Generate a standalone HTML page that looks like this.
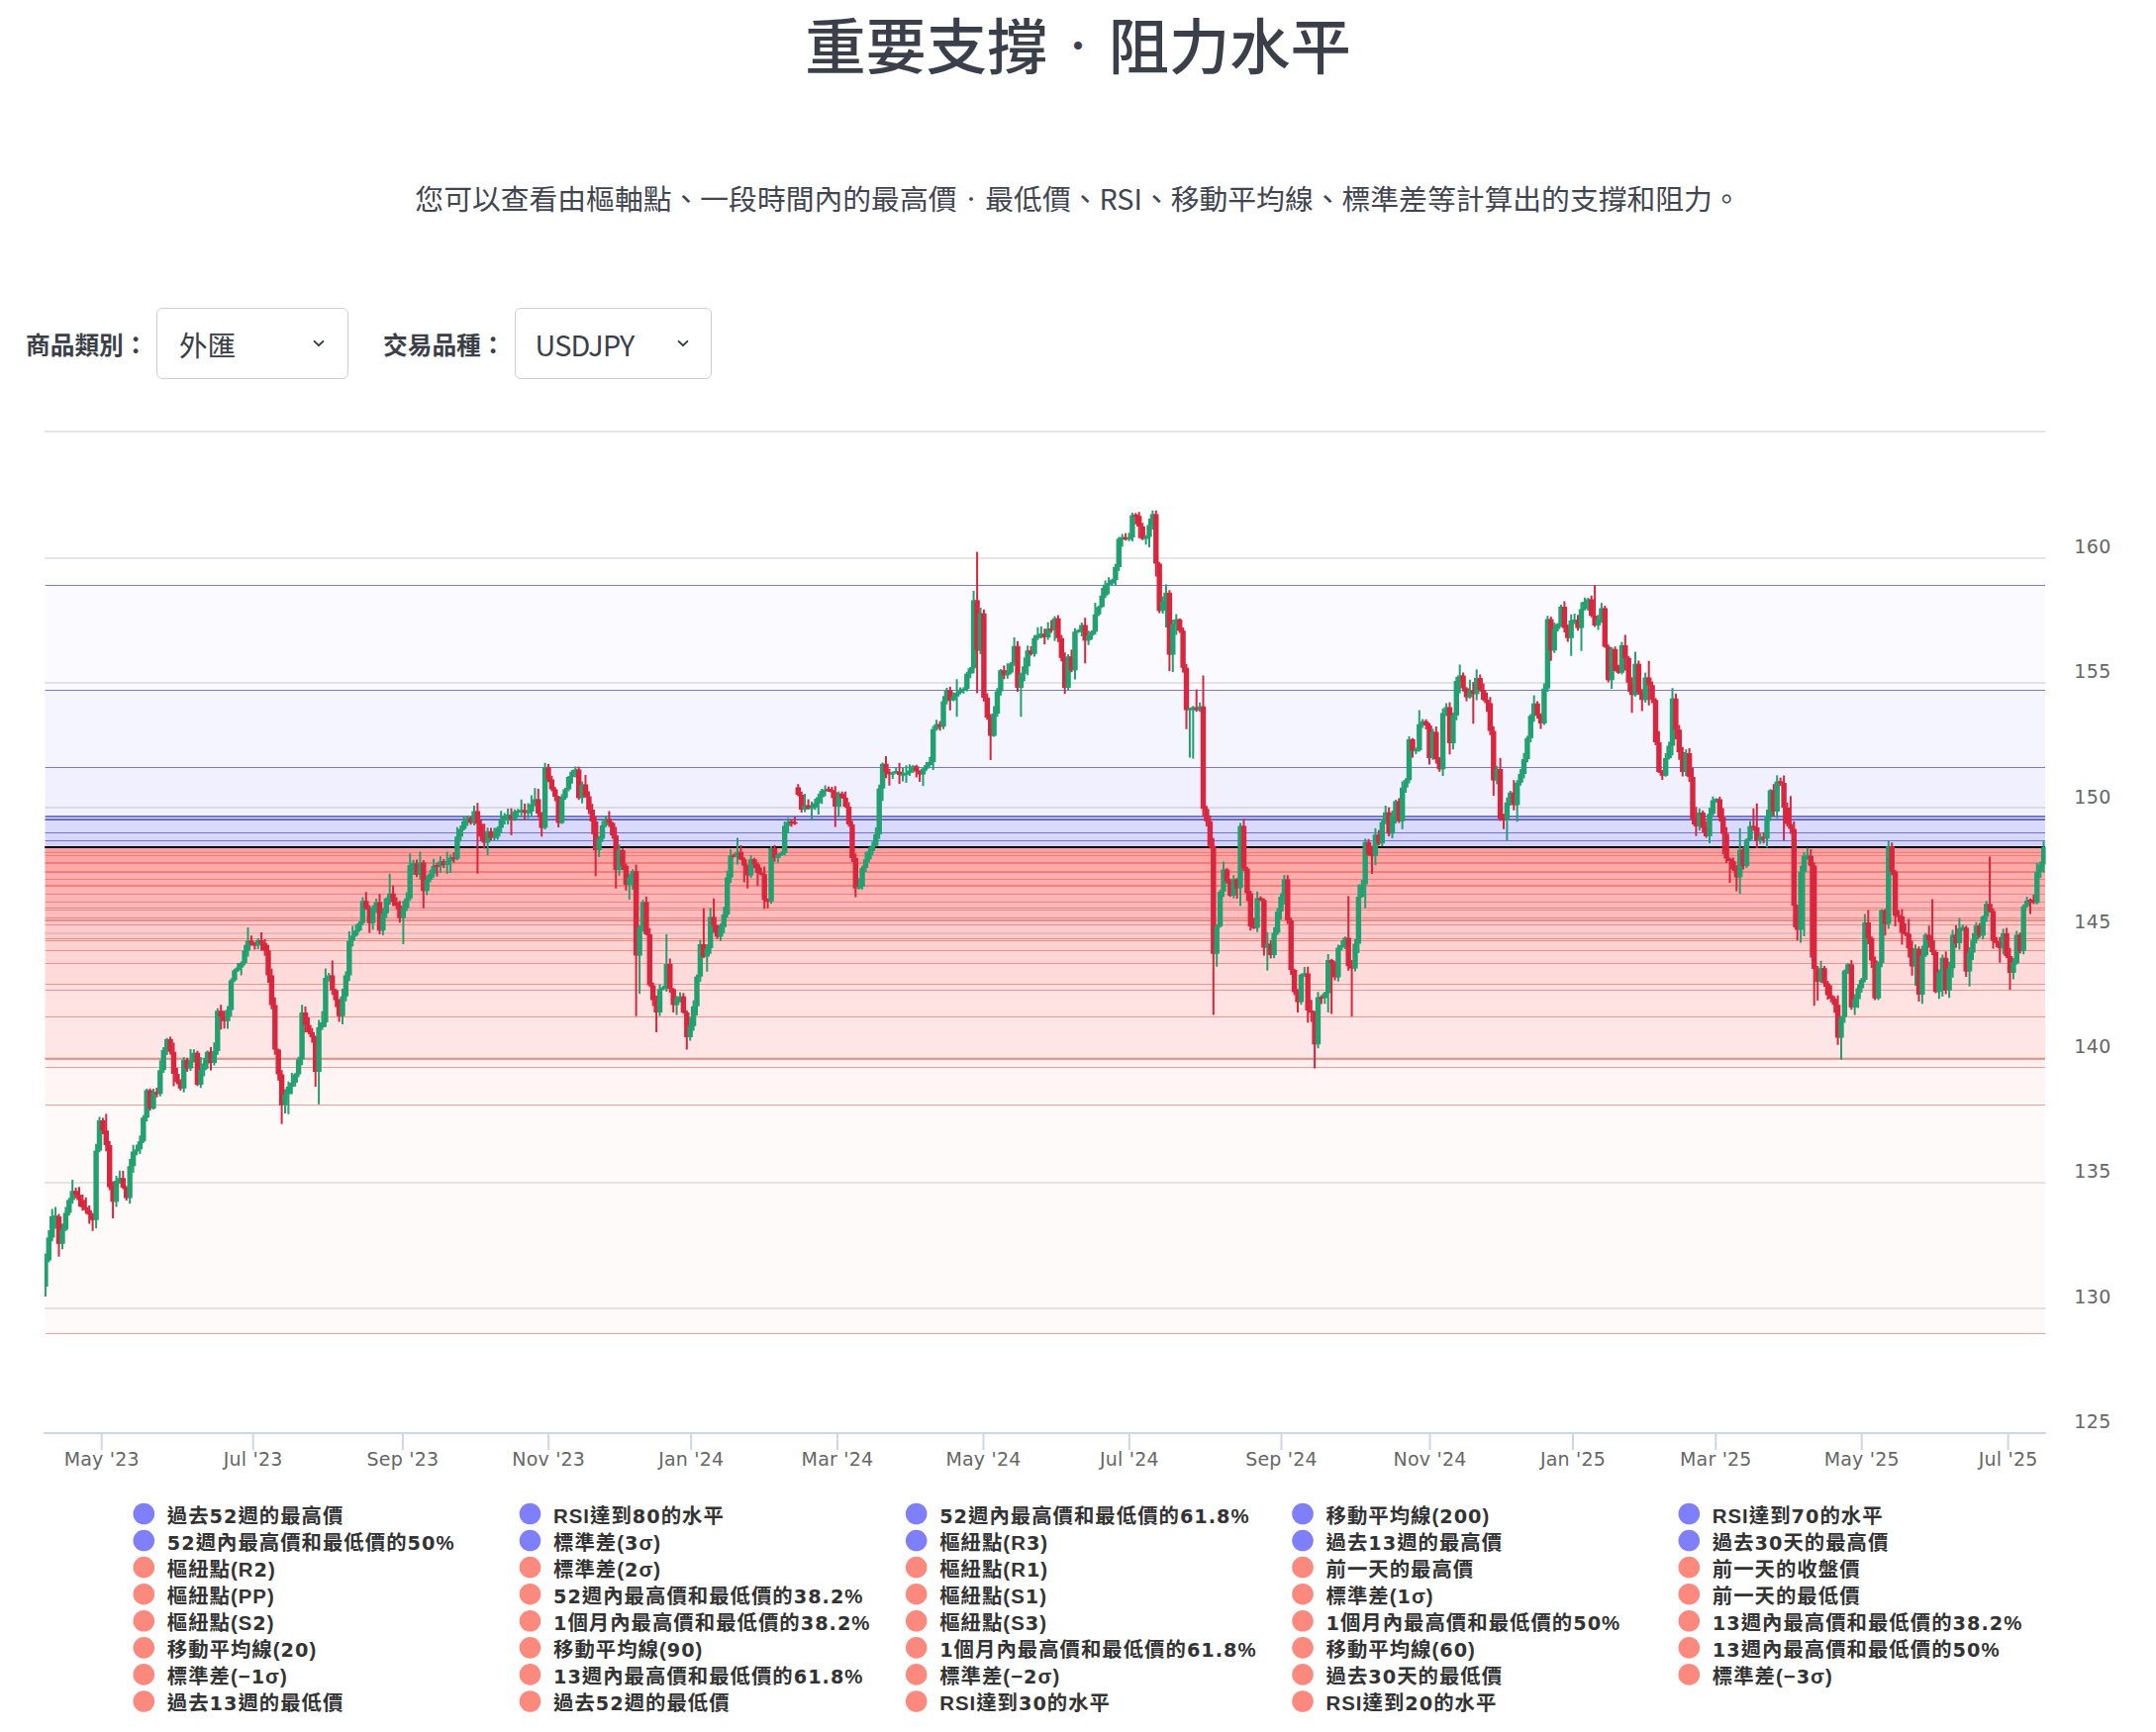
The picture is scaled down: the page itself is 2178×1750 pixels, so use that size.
<!DOCTYPE html>
<html lang="zh-Hant"><head><meta charset="utf-8"><title>重要支撐・阻力水平</title>
<style>
html,body{margin:0;padding:0;background:#fff;}
body{width:2178px;height:1750px;position:relative;overflow:hidden;font-family:"Liberation Sans","Noto Sans CJK TC",sans-serif;color:#3b3f4a;}
.title{position:absolute;left:0;top:2px;width:2178px;text-align:center;font-size:61.3px;line-height:84px;font-weight:500;color:#3b3f4a;font-family:"Noto Sans CJK TC","Liberation Sans",sans-serif;white-space:nowrap;}
.title .dot{display:inline-block;width:61.3px;text-align:center;font-size:35px;line-height:35px;position:relative;top:-11.5px;}
.sub .sdot{display:inline-block;width:28.8px;text-align:center;font-size:18px;line-height:18px;position:relative;top:-4.5px;}
.sub{position:absolute;left:0;top:179px;width:2178px;text-align:center;font-size:28.8px;line-height:42px;color:#41454f;font-family:"Noto Sans CJK TC","Liberation Sans",sans-serif;white-space:nowrap;}
.lab{position:absolute;top:327.5px;font-size:24.7px;line-height:38px;font-weight:700;color:#3b3f4a;font-family:"Noto Sans CJK TC","Liberation Sans",sans-serif;white-space:nowrap;}
.sel{position:absolute;top:311px;height:69.7px;border:1px solid #cfcfcf;border-radius:6px;background:#fff;box-sizing:content-box;}
.sel span{position:absolute;left:21.6px;top:14px;font-size:28.8px;line-height:44px;color:#3b3f4a;font-family:"Noto Sans CJK TC","Liberation Sans",sans-serif;white-space:nowrap;}
.sel svg{position:absolute;top:28.5px;}
.chart{position:absolute;left:0;top:0;}
.ax{font-family:"DejaVu Sans","Liberation Sans",sans-serif;font-size:19px;letter-spacing:0.2px;fill:#666;}
.ay{font-family:"DejaVu Sans","Liberation Sans",sans-serif;font-size:19px;letter-spacing:0.4px;fill:#666;}
.lg{font-family:"Liberation Sans","Noto Sans CJK TC",sans-serif;font-size:20.4px;letter-spacing:1px;font-weight:700;fill:#333;}
.lg .d{font-family:"DejaVu Sans",sans-serif;font-size:19.3px;}
</style></head><body>
<div class="title">重要支撐<span class="dot">・</span>阻力水平</div>
<div class="sub">您可以查看由樞軸點、一段時間內的最高價<span class="sdot">・</span>最低價、RSI、移動平均線、標準差等計算出的支撐和阻力。</div>
<div class="lab" style="left:26px">商品類別：</div>
<div class="sel" style="left:158.2px;width:191.6px"><span>外匯</span><svg style="left:155px" width="16" height="12" viewBox="0 0 16 12"><path d="M3.6 3.8 L8 8.2 L12.4 3.8" fill="none" stroke="#343a40" stroke-width="1.9" stroke-linecap="round" stroke-linejoin="round"/></svg></div>
<div class="lab" style="left:387px">交易品種：</div>
<div class="sel" style="left:520.3px;width:196.6px"><span style="left:19.3px;letter-spacing:-0.8px">USDJPY</span><svg style="left:161px" width="16" height="12" viewBox="0 0 16 12"><path d="M3.6 3.8 L8 8.2 L12.4 3.8" fill="none" stroke="#343a40" stroke-width="1.9" stroke-linecap="round" stroke-linejoin="round"/></svg></div>
<svg class="chart" width="2178" height="1750" viewBox="0 0 2178 1750"><rect x="45.0" y="435" width="2021.6" height="2" fill="#e6e6e6"/><rect x="45.0" y="563" width="2021.6" height="2" fill="#e6e6e6"/><rect x="45.0" y="689" width="2021.6" height="2" fill="#e6e6e6"/><rect x="45.0" y="815" width="2021.6" height="2" fill="#e6e6e6"/><rect x="45.0" y="942" width="2021.6" height="2" fill="#e6e6e6"/><rect x="45.0" y="1068" width="2021.6" height="2" fill="#e6e6e6"/><rect x="45.0" y="1194" width="2021.6" height="2" fill="#e6e6e6"/><rect x="45.0" y="1321" width="2021.6" height="2" fill="#e6e6e6"/><rect x="45.6" y="591.2" width="2020.4" height="264.8" fill="rgb(128, 128, 255)" fill-opacity="0.041"/><rect x="45.6" y="697.2" width="2020.4" height="158.8" fill="rgb(128, 128, 255)" fill-opacity="0.041"/><rect x="45.6" y="775.2" width="2020.4" height="80.8" fill="rgb(128, 128, 255)" fill-opacity="0.041"/><rect x="45.6" y="824.6" width="2020.4" height="31.4" fill="rgb(128, 128, 255)" fill-opacity="0.041"/><rect x="45.6" y="825.4" width="2020.4" height="30.6" fill="rgb(128, 128, 255)" fill-opacity="0.041"/><rect x="45.6" y="827.5" width="2020.4" height="28.5" fill="rgb(128, 128, 255)" fill-opacity="0.041"/><rect x="45.6" y="828.1" width="2020.4" height="27.9" fill="rgb(128, 128, 255)" fill-opacity="0.041"/><rect x="45.6" y="828.7" width="2020.4" height="27.3" fill="rgb(128, 128, 255)" fill-opacity="0.041"/><rect x="45.6" y="841.3" width="2020.4" height="14.7" fill="rgb(128, 128, 255)" fill-opacity="0.041"/><rect x="45.6" y="849.5" width="2020.4" height="6.5" fill="rgb(128, 128, 255)" fill-opacity="0.041"/><rect x="45.6" y="856.0" width="2020.4" height="5.4" fill="rgb(253, 134, 126)" fill-opacity="0.04"/><rect x="45.6" y="856.0" width="2020.4" height="8.4" fill="rgb(253, 134, 126)" fill-opacity="0.04"/><rect x="45.6" y="856.0" width="2020.4" height="15.8" fill="rgb(253, 134, 126)" fill-opacity="0.04"/><rect x="45.6" y="856.0" width="2020.4" height="16.6" fill="rgb(253, 134, 126)" fill-opacity="0.04"/><rect x="45.6" y="856.0" width="2020.4" height="24.5" fill="rgb(253, 134, 126)" fill-opacity="0.04"/><rect x="45.6" y="856.0" width="2020.4" height="25.3" fill="rgb(253, 134, 126)" fill-opacity="0.04"/><rect x="45.6" y="856.0" width="2020.4" height="32.4" fill="rgb(253, 134, 126)" fill-opacity="0.04"/><rect x="45.6" y="856.0" width="2020.4" height="38.6" fill="rgb(253, 134, 126)" fill-opacity="0.04"/><rect x="45.6" y="856.0" width="2020.4" height="39.4" fill="rgb(253, 134, 126)" fill-opacity="0.04"/><rect x="45.6" y="856.0" width="2020.4" height="47.5" fill="rgb(253, 134, 126)" fill-opacity="0.04"/><rect x="45.6" y="856.0" width="2020.4" height="55.2" fill="rgb(253, 134, 126)" fill-opacity="0.04"/><rect x="45.6" y="856.0" width="2020.4" height="61.0" fill="rgb(253, 134, 126)" fill-opacity="0.04"/><rect x="45.6" y="856.0" width="2020.4" height="63.5" fill="rgb(253, 134, 126)" fill-opacity="0.04"/><rect x="45.6" y="856.0" width="2020.4" height="71.5" fill="rgb(253, 134, 126)" fill-opacity="0.04"/><rect x="45.6" y="856.0" width="2020.4" height="73.4" fill="rgb(253, 134, 126)" fill-opacity="0.04"/><rect x="45.6" y="856.0" width="2020.4" height="74.2" fill="rgb(253, 134, 126)" fill-opacity="0.04"/><rect x="45.6" y="856.0" width="2020.4" height="78.2" fill="rgb(253, 134, 126)" fill-opacity="0.04"/><rect x="45.6" y="856.0" width="2020.4" height="92.4" fill="rgb(253, 134, 126)" fill-opacity="0.04"/><rect x="45.6" y="856.0" width="2020.4" height="94.3" fill="rgb(253, 134, 126)" fill-opacity="0.04"/><rect x="45.6" y="856.0" width="2020.4" height="104.7" fill="rgb(253, 134, 126)" fill-opacity="0.04"/><rect x="45.6" y="856.0" width="2020.4" height="117.0" fill="rgb(253, 134, 126)" fill-opacity="0.04"/><rect x="45.6" y="856.0" width="2020.4" height="138.6" fill="rgb(253, 134, 126)" fill-opacity="0.04"/><rect x="45.6" y="856.0" width="2020.4" height="144.5" fill="rgb(253, 134, 126)" fill-opacity="0.04"/><rect x="45.6" y="856.0" width="2020.4" height="171.5" fill="rgb(253, 134, 126)" fill-opacity="0.04"/><rect x="45.6" y="856.0" width="2020.4" height="213.6" fill="rgb(253, 134, 126)" fill-opacity="0.04"/><rect x="45.6" y="856.0" width="2020.4" height="214.6" fill="rgb(253, 134, 126)" fill-opacity="0.04"/><rect x="45.6" y="856.0" width="2020.4" height="222.6" fill="rgb(253, 134, 126)" fill-opacity="0.04"/><rect x="45.6" y="856.0" width="2020.4" height="260.6" fill="rgb(253, 134, 126)" fill-opacity="0.04"/><rect x="45.6" y="856.0" width="2020.4" height="491.0" fill="rgb(253, 134, 126)" fill-opacity="0.04"/><rect x="45.6" y="591" width="2020.4" height="1" fill="#5a5ac8" fill-opacity="0.8"/><rect x="45.6" y="697" width="2020.4" height="1" fill="#5a5ac8" fill-opacity="0.8"/><rect x="45.6" y="775" width="2020.4" height="1" fill="#5a5ac8" fill-opacity="0.8"/><rect x="45.6" y="824" width="2020.4" height="1" fill="#5a5ac8" fill-opacity="0.8"/><rect x="45.6" y="825" width="2020.4" height="1" fill="#5a5ac8" fill-opacity="0.8"/><rect x="45.6" y="827" width="2020.4" height="1" fill="#5a5ac8" fill-opacity="0.8"/><rect x="45.6" y="828" width="2020.4" height="1" fill="#5a5ac8" fill-opacity="0.8"/><rect x="45.6" y="828" width="2020.4" height="1" fill="#5a5ac8" fill-opacity="0.8"/><rect x="45.6" y="841" width="2020.4" height="1" fill="#5a5ac8" fill-opacity="0.8"/><rect x="45.6" y="849" width="2020.4" height="1" fill="#5a5ac8" fill-opacity="0.8"/><rect x="45.6" y="861" width="2020.4" height="1" fill="#e6625c" fill-opacity="0.6"/><rect x="45.6" y="864" width="2020.4" height="1" fill="#e6625c" fill-opacity="0.6"/><rect x="45.6" y="871" width="2020.4" height="1" fill="#e6625c" fill-opacity="0.6"/><rect x="45.6" y="872" width="2020.4" height="1" fill="#e6625c" fill-opacity="0.6"/><rect x="45.6" y="880" width="2020.4" height="1" fill="#e6625c" fill-opacity="0.6"/><rect x="45.6" y="881" width="2020.4" height="1" fill="#e6625c" fill-opacity="0.6"/><rect x="45.6" y="888" width="2020.4" height="1" fill="#e6625c" fill-opacity="0.6"/><rect x="45.6" y="894" width="2020.4" height="1" fill="#e6625c" fill-opacity="0.6"/><rect x="45.6" y="895" width="2020.4" height="1" fill="#e6625c" fill-opacity="0.6"/><rect x="45.6" y="903" width="2020.4" height="1" fill="#e6625c" fill-opacity="0.6"/><rect x="45.6" y="911" width="2020.4" height="1" fill="#e6625c" fill-opacity="0.6"/><rect x="45.6" y="917" width="2020.4" height="1" fill="#e6625c" fill-opacity="0.6"/><rect x="45.6" y="919" width="2020.4" height="1" fill="#e6625c" fill-opacity="0.6"/><rect x="45.6" y="927" width="2020.4" height="1" fill="#e6625c" fill-opacity="0.6"/><rect x="45.6" y="929" width="2020.4" height="1" fill="#e6625c" fill-opacity="0.6"/><rect x="45.6" y="930" width="2020.4" height="1" fill="#e6625c" fill-opacity="0.6"/><rect x="45.6" y="934" width="2020.4" height="1" fill="#e6625c" fill-opacity="0.6"/><rect x="45.6" y="948" width="2020.4" height="1" fill="#e6625c" fill-opacity="0.6"/><rect x="45.6" y="950" width="2020.4" height="1" fill="#e6625c" fill-opacity="0.6"/><rect x="45.6" y="960" width="2020.4" height="1" fill="#e6625c" fill-opacity="0.6"/><rect x="45.6" y="973" width="2020.4" height="1" fill="#e6625c" fill-opacity="0.6"/><rect x="45.6" y="994" width="2020.4" height="1" fill="#e6625c" fill-opacity="0.6"/><rect x="45.6" y="1000" width="2020.4" height="1" fill="#e6625c" fill-opacity="0.6"/><rect x="45.6" y="1027" width="2020.4" height="1" fill="#e6625c" fill-opacity="0.6"/><rect x="45.6" y="1069" width="2020.4" height="1" fill="#e6625c" fill-opacity="0.6"/><rect x="45.6" y="1070" width="2020.4" height="1" fill="#e6625c" fill-opacity="0.6"/><rect x="45.6" y="1078" width="2020.4" height="1" fill="#e6625c" fill-opacity="0.6"/><rect x="45.6" y="1116" width="2020.4" height="1" fill="#e6625c" fill-opacity="0.6"/><rect x="45.6" y="1347" width="2020.4" height="1" fill="#e6625c" fill-opacity="0.6"/><rect x="45.2" y="855" width="2020.8000000000002" height="2" fill="#000"/><path d="M45.9 1266.6V1310.1M49.3 1243.0V1275.5M52.7 1221.6V1254.2M56.1 1219.5V1241.4" stroke="#22a070" stroke-width="2" fill="none"/><path d="M45.6 1273.4H48.6V1300.0H45.6zM46.6 1250.6H52.0V1273.4H46.6zM50.0 1229.1H55.4V1250.6H50.0zM53.4 1228.1H58.8V1230.1H53.4z" fill="#22a070"/><path d="M59.5 1226.5V1269.7" stroke="#d7263d" stroke-width="2" fill="none"/><path d="M56.8 1229.1H62.2V1256.8H56.8z" fill="#d7263d"/><path d="M63.0 1236.3V1262.2M66.4 1219.4V1244.1M69.8 1210.3V1228.3M73.2 1192.1V1216.2" stroke="#22a070" stroke-width="2" fill="none"/><path d="M60.2 1242.4H65.7V1256.8H60.2zM63.7 1225.4H69.1V1242.4H63.7zM67.1 1212.4H72.5V1225.4H67.1zM70.5 1203.2H75.9V1212.4H70.5z" fill="#22a070"/><path d="M76.6 1199.9V1210.7M80.0 1199.2V1219.2M83.4 1207.1V1223.2M86.8 1209.9V1226.6M90.2 1217.9V1236.4M93.6 1225.4V1243.8" stroke="#d7263d" stroke-width="2" fill="none"/><path d="M73.9 1203.2H79.3V1207.3H73.9zM77.3 1207.3H82.7V1212.4H77.3zM80.7 1212.4H86.1V1219.8H80.7zM84.1 1219.8H89.5V1222.7H84.1zM87.5 1222.7H92.9V1227.2H87.5zM90.9 1227.2H96.3V1232.8H90.9z" fill="#d7263d"/><path d="M97.1 1155.7V1241.0M100.5 1128.6V1164.2" stroke="#22a070" stroke-width="2" fill="none"/><path d="M94.4 1162.6H99.8V1232.8H94.4zM97.8 1132.1H103.2V1162.6H97.8z" fill="#22a070"/><path d="M103.9 1129.6V1146.1M107.3 1125.6V1163.2M110.7 1153.0V1202.4M114.1 1193.8V1230.9" stroke="#d7263d" stroke-width="2" fill="none"/><path d="M101.2 1132.1H106.6V1142.2H101.2zM104.6 1142.2H110.0V1157.0H104.6zM108.0 1157.0H113.4V1199.5H108.0zM111.4 1199.5H116.8V1214.3H111.4z" fill="#d7263d"/><path d="M117.5 1188.1V1219.5M120.9 1182.7V1196.0" stroke="#22a070" stroke-width="2" fill="none"/><path d="M114.8 1193.0H120.2V1214.3H114.8zM118.2 1190.3H123.6V1193.0H118.2z" fill="#22a070"/><path d="M124.3 1183.1V1201.5M127.7 1198.2V1212.9" stroke="#d7263d" stroke-width="2" fill="none"/><path d="M121.6 1190.3H127.0V1199.9H121.6zM125.0 1199.9H130.4V1210.6H125.0z" fill="#d7263d"/><path d="M131.2 1170.9V1216.2M134.6 1156.8V1185.0M138.0 1156.6V1167.3M141.4 1147.2V1166.1M144.8 1126.8V1155.0M148.2 1099.9V1132.9" stroke="#22a070" stroke-width="2" fill="none"/><path d="M128.5 1178.3H133.8V1210.6H128.5zM131.9 1163.5H137.3V1178.3H131.9zM135.3 1161.2H140.7V1163.5H135.3zM138.7 1153.3H144.1V1161.2H138.7zM142.1 1129.3H147.5V1153.3H142.1zM145.5 1101.6H150.9V1129.3H145.5z" fill="#22a070"/><path d="M151.6 1099.8V1122.3" stroke="#d7263d" stroke-width="2" fill="none"/><path d="M148.9 1101.6H154.3V1120.1H148.9z" fill="#d7263d"/><path d="M155.0 1099.9V1121.1" stroke="#22a070" stroke-width="2" fill="none"/><path d="M152.3 1103.4H157.7V1120.1H152.3z" fill="#22a070"/><path d="M158.4 1099.0V1108.8" stroke="#d7263d" stroke-width="2" fill="none"/><path d="M155.7 1103.4H161.1V1105.4H155.7z" fill="#d7263d"/><path d="M161.8 1071.2V1107.8M165.2 1058.0V1084.0M168.7 1048.8V1066.1" stroke="#22a070" stroke-width="2" fill="none"/><path d="M159.1 1081.3H164.5V1105.3H159.1zM162.6 1061.0H167.9V1081.3H162.6zM166.0 1049.9H171.4V1061.0H166.0z" fill="#22a070"/><path d="M172.1 1047.4V1065.5M175.5 1053.5V1097.5M178.9 1078.9V1095.5M182.3 1090.6V1101.8" stroke="#d7263d" stroke-width="2" fill="none"/><path d="M169.4 1049.9H174.8V1062.8H169.4zM172.8 1062.8H178.2V1085.0H172.8zM176.2 1085.0H181.6V1093.4H176.2zM179.6 1093.4H185.0V1099.8H179.6z" fill="#d7263d"/><path d="M185.7 1068.2V1103.7" stroke="#22a070" stroke-width="2" fill="none"/><path d="M183.0 1071.1H188.4V1099.8H183.0z" fill="#22a070"/><path d="M189.1 1068.9V1082.8" stroke="#d7263d" stroke-width="2" fill="none"/><path d="M186.4 1071.1H191.8V1079.4H186.4z" fill="#d7263d"/><path d="M192.5 1060.1V1082.0M195.9 1060.2V1073.5" stroke="#22a070" stroke-width="2" fill="none"/><path d="M189.8 1072.0H195.2V1079.4H189.8zM193.2 1063.7H198.6V1072.0H193.2z" fill="#22a070"/><path d="M199.4 1061.7V1097.3" stroke="#d7263d" stroke-width="2" fill="none"/><path d="M196.7 1063.7H202.1V1096.1H196.7z" fill="#d7263d"/><path d="M202.8 1068.0V1099.3M206.2 1069.1V1087.5M209.6 1061.5V1079.9" stroke="#22a070" stroke-width="2" fill="none"/><path d="M200.1 1081.3H205.5V1096.1H200.1zM203.5 1074.6H208.9V1081.3H203.5zM206.9 1062.8H212.3V1074.6H206.9z" fill="#22a070"/><path d="M213.0 1058.0V1081.6" stroke="#d7263d" stroke-width="2" fill="none"/><path d="M210.3 1062.8H215.7V1073.9H210.3z" fill="#d7263d"/><path d="M216.4 1053.2V1076.5M219.8 1018.7V1065.7" stroke="#22a070" stroke-width="2" fill="none"/><path d="M213.7 1061.9H219.1V1073.9H213.7zM217.1 1021.2H222.5V1061.9H217.1z" fill="#22a070"/><path d="M223.2 1015.3V1040.2M226.6 1021.2V1039.3" stroke="#d7263d" stroke-width="2" fill="none"/><path d="M220.5 1021.2H225.9V1027.1H220.5zM223.9 1027.1H229.3V1031.8H223.9z" fill="#d7263d"/><path d="M230.0 1016.4V1039.5M233.5 988.6V1026.9M236.9 978.7V992.3M240.3 973.1V982.0M243.7 971.5V985.5M247.1 954.7V975.2M250.5 937.0V966.5" stroke="#22a070" stroke-width="2" fill="none"/><path d="M227.3 1020.5H232.7V1031.8H227.3zM230.8 990.4H236.2V1020.5H230.8zM234.2 980.4H239.6V990.4H234.2zM237.6 977.6H243.0V980.4H237.6zM241.0 972.9H246.4V977.6H241.0zM244.4 960.4H249.8V972.9H244.4zM247.8 950.4H253.2V960.4H247.8z" fill="#22a070"/><path d="M253.9 945.2V955.5M257.3 951.7V959.5" stroke="#d7263d" stroke-width="2" fill="none"/><path d="M251.2 950.4H256.6V953.3H251.2zM254.6 953.3H260.0V955.4H254.6z" fill="#d7263d"/><path d="M260.7 947.9V959.2" stroke="#22a070" stroke-width="2" fill="none"/><path d="M258.0 949.9H263.4V955.4H258.0z" fill="#22a070"/><path d="M264.1 942.1V960.6M267.6 949.1V965.7M271.0 954.8V993.0M274.4 978.7V1019.8M277.8 1007.8V1065.8M281.2 1059.6V1091.7M284.6 1081.2V1135.7" stroke="#d7263d" stroke-width="2" fill="none"/><path d="M261.4 949.9H266.8V952.9H261.4zM264.9 952.9H270.2V960.4H264.9zM268.3 960.4H273.7V985.4H268.3zM271.7 985.4H277.1V1015.5H271.7zM275.1 1015.5H280.5V1060.6H275.1zM278.5 1060.6H283.9V1085.6H278.5zM281.9 1085.6H287.3V1116.9H281.9z" fill="#d7263d"/><path d="M288.0 1100.6V1124.9M291.4 1092.7V1125.7M294.8 1084.1V1105.5M298.2 1084.2V1097.7M301.6 1067.8V1088.4M305.1 1015.2V1076.2" stroke="#22a070" stroke-width="2" fill="none"/><path d="M285.3 1105.6H290.7V1116.9H285.3zM288.7 1098.1H294.1V1105.6H288.7zM292.1 1094.0H297.5V1098.1H292.1zM295.5 1085.6H300.9V1094.0H295.5zM298.9 1070.6H304.3V1085.6H298.9zM302.4 1023.0H307.8V1070.6H302.4z" fill="#22a070"/><path d="M308.5 1016.9V1043.2M311.9 1028.0V1044.9M315.3 1038.7V1053.6M318.7 1046.5V1098.1" stroke="#d7263d" stroke-width="2" fill="none"/><path d="M305.8 1023.0H311.2V1035.5H305.8zM309.2 1035.5H314.6V1043.0H309.2zM312.6 1043.0H318.0V1048.0H312.6zM316.0 1048.0H321.4V1083.1H316.0z" fill="#d7263d"/><path d="M322.1 1030.6V1115.7M325.5 1021.7V1040.8M328.9 978.6V1037.7M332.3 983.0V991.7" stroke="#22a070" stroke-width="2" fill="none"/><path d="M319.4 1038.0H324.8V1083.1H319.4zM322.8 1033.0H328.2V1038.0H322.8zM326.2 987.9H331.6V1033.0H326.2zM329.6 985.4H335.0V987.9H329.6z" fill="#22a070"/><path d="M335.8 970.4V1005.2M339.2 999.1V1017.4M342.6 1009.2V1032.4" stroke="#d7263d" stroke-width="2" fill="none"/><path d="M333.1 985.4H338.4V1000.4H333.1zM336.5 1000.4H341.9V1010.5H336.5zM339.9 1010.5H345.3V1026.7H339.9z" fill="#d7263d"/><path d="M346.0 999.0V1035.0M349.4 981.4V1011.7M352.8 940.9V991.3M356.2 935.5V956.2M359.6 933.8V946.4M363.0 931.0V941.5M366.4 906.6V934.9" stroke="#22a070" stroke-width="2" fill="none"/><path d="M343.3 1006.7H348.7V1026.7H343.3zM346.7 985.4H352.1V1006.7H346.7zM350.1 950.4H355.5V985.4H350.1zM353.5 945.3H358.9V950.4H353.5zM356.9 940.3H362.3V945.3H356.9zM360.3 932.8H365.7V940.3H360.3zM363.7 910.3H369.1V932.8H363.7z" fill="#22a070"/><path d="M369.8 901.2V919.0M373.3 914.4V942.8" stroke="#d7263d" stroke-width="2" fill="none"/><path d="M367.1 910.3H372.5V917.8H367.1zM370.6 917.8H376.0V932.8H370.6z" fill="#d7263d"/><path d="M376.7 914.6V939.5M380.1 908.0V922.4" stroke="#22a070" stroke-width="2" fill="none"/><path d="M374.0 916.5H379.4V932.8H374.0zM377.4 911.5H382.8V916.5H377.4z" fill="#22a070"/><path d="M383.5 903.1V944.0" stroke="#d7263d" stroke-width="2" fill="none"/><path d="M380.8 911.5H386.2V940.3H380.8z" fill="#d7263d"/><path d="M386.9 917.3V944.9M390.3 906.7V927.4M393.7 882.7V914.1" stroke="#22a070" stroke-width="2" fill="none"/><path d="M384.2 922.8H389.6V940.3H384.2zM387.6 907.8H393.0V922.8H387.6zM391.0 902.8H396.4V907.8H391.0z" fill="#22a070"/><path d="M397.1 894.7V915.4M400.5 906.4V918.8M403.9 910.2V932.3" stroke="#d7263d" stroke-width="2" fill="none"/><path d="M394.4 902.8H399.8V911.5H394.4zM397.8 911.5H403.2V915.3H397.8zM401.2 915.3H406.6V927.8H401.2z" fill="#d7263d"/><path d="M407.4 909.9V954.1M410.8 901.5V920.4M414.2 862.3V910.2M417.6 868.8V883.7" stroke="#22a070" stroke-width="2" fill="none"/><path d="M404.7 917.8H410.1V927.8H404.7zM408.1 907.8H413.5V917.8H408.1zM411.5 874.0H416.9V907.8H411.5zM414.9 872.3H420.3V874.3H414.9z" fill="#22a070"/><path d="M421.0 868.4V886.2" stroke="#d7263d" stroke-width="2" fill="none"/><path d="M418.3 872.7H423.7V884.0H418.3z" fill="#d7263d"/><path d="M424.4 860.4V888.9" stroke="#22a070" stroke-width="2" fill="none"/><path d="M421.7 871.5H427.1V884.0H421.7z" fill="#22a070"/><path d="M427.8 869.1V917.8" stroke="#d7263d" stroke-width="2" fill="none"/><path d="M425.1 871.5H430.5V900.3H425.1z" fill="#d7263d"/><path d="M431.2 884.5V904.6M434.6 878.7V891.5M438.1 867.7V886.7" stroke="#22a070" stroke-width="2" fill="none"/><path d="M428.5 889.0H433.9V900.3H428.5zM431.9 882.7H437.3V889.0H431.9zM435.4 874.7H440.8V882.7H435.4z" fill="#22a070"/><path d="M441.5 871.7V885.6" stroke="#d7263d" stroke-width="2" fill="none"/><path d="M438.8 874.0H444.2V876.0H438.8z" fill="#d7263d"/><path d="M444.9 865.2V882.1" stroke="#22a070" stroke-width="2" fill="none"/><path d="M442.2 870.2H447.6V875.2H442.2z" fill="#22a070"/><path d="M448.3 867.9V877.1" stroke="#d7263d" stroke-width="2" fill="none"/><path d="M445.6 870.2H451.0V874.0H445.6z" fill="#d7263d"/><path d="M451.7 860.5V882.9M455.1 863.3V882.1" stroke="#22a070" stroke-width="2" fill="none"/><path d="M449.0 870.2H454.4V874.0H449.0zM452.4 866.4H457.8V870.2H452.4z" fill="#22a070"/><path d="M458.5 861.3V871.8" stroke="#d7263d" stroke-width="2" fill="none"/><path d="M455.8 866.1H461.2V868.1H455.8z" fill="#d7263d"/><path d="M461.9 835.7V869.2M465.3 834.1V850.2M468.7 824.7V839.0M472.1 824.1V834.5" stroke="#22a070" stroke-width="2" fill="none"/><path d="M459.2 845.2H464.6V867.7H459.2zM462.6 837.6H468.0V845.2H462.6zM466.0 829.8H471.4V837.6H466.0zM469.4 826.4H474.8V829.8H469.4z" fill="#22a070"/><path d="M475.6 825.2V833.3" stroke="#d7263d" stroke-width="2" fill="none"/><path d="M472.9 826.4H478.3V831.4H472.9z" fill="#d7263d"/><path d="M479.0 814.0V834.0" stroke="#22a070" stroke-width="2" fill="none"/><path d="M476.3 819.6H481.7V831.4H476.3z" fill="#22a070"/><path d="M482.4 811.3V882.7M485.8 827.8V849.9M489.2 832.2V857.5" stroke="#d7263d" stroke-width="2" fill="none"/><path d="M479.7 819.6H485.1V832.6H479.7zM483.1 832.6H488.5V845.2H483.1zM486.5 845.2H491.9V851.4H486.5z" fill="#d7263d"/><path d="M492.6 836.3V864.1" stroke="#22a070" stroke-width="2" fill="none"/><path d="M489.9 840.1H495.3V851.4H489.9z" fill="#22a070"/><path d="M496.0 836.4V849.6" stroke="#d7263d" stroke-width="2" fill="none"/><path d="M493.3 840.1H498.7V846.4H493.3z" fill="#d7263d"/><path d="M499.4 836.6V849.3M502.8 835.1V848.5M506.2 819.2V842.0M509.7 821.4V833.1M513.1 816.9V833.0" stroke="#22a070" stroke-width="2" fill="none"/><path d="M496.7 844.8H502.1V846.8H496.7zM500.1 836.4H505.5V845.2H500.1zM503.6 829.0H508.9V836.4H503.6zM507.0 823.9H512.4V829.0H507.0zM510.4 822.9H515.8V824.9H510.4z" fill="#22a070"/><path d="M516.5 816.6V843.9" stroke="#d7263d" stroke-width="2" fill="none"/><path d="M513.8 823.9H519.2V827.6H513.8z" fill="#d7263d"/><path d="M519.9 817.8V829.5M523.3 817.2V825.5M526.7 807.8V825.7" stroke="#22a070" stroke-width="2" fill="none"/><path d="M517.2 820.1H522.6V827.6H517.2zM520.6 819.1H526.0V821.1H520.6zM524.0 818.2H529.4V820.2H524.0z" fill="#22a070"/><path d="M530.1 812.0V828.4" stroke="#d7263d" stroke-width="2" fill="none"/><path d="M527.4 818.4H532.8V821.4H527.4z" fill="#d7263d"/><path d="M533.5 811.4V826.8M536.9 803.4V824.8M540.4 796.3V814.8" stroke="#22a070" stroke-width="2" fill="none"/><path d="M530.8 819.7H536.2V821.7H530.8zM534.2 812.6H539.6V820.1H534.2zM537.6 807.6H543.1V812.6H537.6z" fill="#22a070"/><path d="M543.8 796.9V826.2M547.2 820.6V845.2" stroke="#d7263d" stroke-width="2" fill="none"/><path d="M541.1 807.6H546.5V821.9H541.1zM544.5 821.9H549.9V836.4H544.5z" fill="#d7263d"/><path d="M550.6 770.8V838.0" stroke="#22a070" stroke-width="2" fill="none"/><path d="M547.9 775.0H553.3V836.4H547.9z" fill="#22a070"/><path d="M554.0 772.0V790.2M557.4 783.7V799.6M560.8 795.2V809.6M564.2 803.9V836.1" stroke="#d7263d" stroke-width="2" fill="none"/><path d="M551.3 775.0H556.7V787.6H551.3zM554.7 787.6H560.1V797.6H554.7zM558.1 797.6H563.5V805.1H558.1zM561.5 805.1H566.9V831.4H561.5z" fill="#d7263d"/><path d="M567.6 802.5V832.4M571.0 796.1V808.0M574.5 784.0V799.4M577.9 778.1V791.7M581.3 774.6V785.4" stroke="#22a070" stroke-width="2" fill="none"/><path d="M564.9 806.3H570.3V831.4H564.9zM568.3 797.6H573.7V806.3H568.3zM571.8 785.0H577.2V797.6H571.8zM575.2 779.7H580.6V785.0H575.2zM578.6 777.5H584.0V779.7H578.6z" fill="#22a070"/><path d="M584.7 774.6V808.2" stroke="#d7263d" stroke-width="2" fill="none"/><path d="M582.0 777.5H587.4V806.3H582.0z" fill="#d7263d"/><path d="M588.1 789.6V811.7" stroke="#22a070" stroke-width="2" fill="none"/><path d="M585.4 792.6H590.8V806.3H585.4z" fill="#22a070"/><path d="M591.5 783.0V805.9M594.9 799.4V822.5M598.3 812.2V843.0M601.7 824.5V885.2" stroke="#d7263d" stroke-width="2" fill="none"/><path d="M588.8 792.6H594.2V804.6H588.8zM592.2 804.6H597.6V818.1H592.2zM595.6 818.1H601.0V830.1H595.6zM599.0 830.1H604.4V858.9H599.0z" fill="#d7263d"/><path d="M605.1 844.7V866.1M608.5 829.5V850.7M612.0 823.9V835.7" stroke="#22a070" stroke-width="2" fill="none"/><path d="M602.4 847.4H607.8V858.9H602.4zM605.8 833.9H611.2V847.4H605.8zM609.3 827.1H614.7V833.9H609.3z" fill="#22a070"/><path d="M615.4 819.4V835.6M618.8 830.3V847.6M622.2 835.5V897.8" stroke="#d7263d" stroke-width="2" fill="none"/><path d="M612.7 827.1H618.1V831.4H612.7zM616.1 831.4H621.5V843.9H616.1zM619.5 843.9H624.9V879.0H619.5z" fill="#d7263d"/><path d="M625.6 853.3V884.8" stroke="#22a070" stroke-width="2" fill="none"/><path d="M622.9 858.9H628.3V879.0H622.9z" fill="#22a070"/><path d="M629.0 857.3V879.1M632.4 872.5V899.8" stroke="#d7263d" stroke-width="2" fill="none"/><path d="M626.3 858.9H631.7V874.8H626.3zM629.7 874.8H635.1V894.0H629.7z" fill="#d7263d"/><path d="M635.8 882.8V909.0M639.2 878.3V898.9" stroke="#22a070" stroke-width="2" fill="none"/><path d="M633.1 886.5H638.5V894.0H633.1zM636.5 880.2H641.9V886.5H636.5z" fill="#22a070"/><path d="M642.6 873.6V1026.7" stroke="#d7263d" stroke-width="2" fill="none"/><path d="M639.9 880.2H645.4V965.4H639.9z" fill="#d7263d"/><path d="M646.1 935.2V1004.2M649.5 909.0V941.5" stroke="#22a070" stroke-width="2" fill="none"/><path d="M643.4 936.6H648.8V965.4H643.4zM646.8 911.5H652.2V936.6H646.8z" fill="#22a070"/><path d="M652.9 906.1V945.1M656.3 937.8V997.3M659.7 992.8V1016.5M663.1 1005.9V1043.0" stroke="#d7263d" stroke-width="2" fill="none"/><path d="M650.2 911.5H655.6V944.1H650.2zM653.6 944.1H659.0V995.4H653.6zM657.0 995.4H662.4V1010.5H657.0zM660.4 1010.5H665.8V1023.0H660.4z" fill="#d7263d"/><path d="M666.5 994.4V1026.4M669.9 996.0V1000.4M673.3 944.1V1002.0" stroke="#22a070" stroke-width="2" fill="none"/><path d="M663.8 999.2H669.2V1023.0H663.8zM667.2 997.6H672.6V999.6H667.2zM670.6 974.1H676.0V997.9H670.6z" fill="#22a070"/><path d="M676.8 968.4V1003.0M680.2 998.2V1023.1" stroke="#d7263d" stroke-width="2" fill="none"/><path d="M674.0 974.1H679.5V999.2H674.0zM677.5 999.2H682.9V1015.5H677.5z" fill="#d7263d"/><path d="M683.6 1006.3V1025.5M687.0 1002.6V1012.8" stroke="#22a070" stroke-width="2" fill="none"/><path d="M680.9 1009.2H686.3V1015.5H680.9zM684.3 1006.7H689.7V1009.2H684.3z" fill="#22a070"/><path d="M690.4 1003.2V1024.2M693.8 1020.9V1060.6" stroke="#d7263d" stroke-width="2" fill="none"/><path d="M687.7 1006.7H693.1V1023.0H687.7zM691.1 1023.0H696.5V1048.0H691.1z" fill="#d7263d"/><path d="M697.2 1027.4V1051.4M700.6 1010.8V1041.6M704.0 984.8V1025.9M707.4 949.6V991.9" stroke="#22a070" stroke-width="2" fill="none"/><path d="M694.5 1036.7H699.9V1048.0H694.5zM697.9 1016.7H703.3V1036.7H697.9zM701.3 986.7H706.7V1016.7H701.3zM704.7 954.1H710.1V986.7H704.7z" fill="#22a070"/><path d="M710.9 917.8V967.9" stroke="#d7263d" stroke-width="2" fill="none"/><path d="M708.1 954.1H713.6V966.6H708.1z" fill="#d7263d"/><path d="M714.3 954.0V981.7M717.7 917.3V963.7" stroke="#22a070" stroke-width="2" fill="none"/><path d="M711.6 957.9H717.0V966.6H711.6zM715.0 926.6H720.4V957.9H715.0z" fill="#22a070"/><path d="M721.1 907.8V942.6M724.5 934.2V948.7" stroke="#d7263d" stroke-width="2" fill="none"/><path d="M718.4 926.6H723.8V935.3H718.4zM721.8 935.3H727.2V946.6H721.8z" fill="#d7263d"/><path d="M727.9 932.9V950.8M731.3 916.3V943.0M734.7 879.6V927.3M738.1 858.2V892.3" stroke="#22a070" stroke-width="2" fill="none"/><path d="M725.2 936.7H730.6V946.6H725.2zM728.6 924.1H734.0V936.7H728.6zM732.0 886.5H737.4V924.1H732.0zM735.4 863.9H740.8V886.5H735.4z" fill="#22a070"/><path d="M741.5 862.6V866.3" stroke="#d7263d" stroke-width="2" fill="none"/><path d="M738.8 863.6H744.2V865.6H738.8z" fill="#d7263d"/><path d="M745.0 846.4V873.4" stroke="#22a070" stroke-width="2" fill="none"/><path d="M742.2 860.7H747.7V865.3H742.2z" fill="#22a070"/><path d="M748.4 854.1V869.3M751.8 866.3V891.5M755.2 873.5V897.8" stroke="#d7263d" stroke-width="2" fill="none"/><path d="M745.7 860.7H751.1V868.2H745.7zM749.1 868.2H754.5V874.8H749.1zM752.5 874.8H757.9V884.5H752.5z" fill="#d7263d"/><path d="M758.6 864.0V887.1" stroke="#22a070" stroke-width="2" fill="none"/><path d="M755.9 868.2H761.3V884.5H755.9z" fill="#22a070"/><path d="M762.0 866.8V877.2M765.4 871.4V895.2M768.8 876.5V884.4M772.2 875.4V918.3M775.6 907.8V918.0" stroke="#d7263d" stroke-width="2" fill="none"/><path d="M759.3 868.2H764.7V873.2H759.3zM762.7 873.2H768.1V882.0H762.7zM766.1 881.6H771.5V883.6H766.1zM769.5 883.2H774.9V909.5H769.5zM772.9 909.1H778.3V911.1H772.9z" fill="#d7263d"/><path d="M779.0 854.8V913.2" stroke="#22a070" stroke-width="2" fill="none"/><path d="M776.3 856.9H781.8V910.8H776.3z" fill="#22a070"/><path d="M782.5 853.8V870.7" stroke="#d7263d" stroke-width="2" fill="none"/><path d="M779.8 856.9H785.2V866.9H779.8z" fill="#d7263d"/><path d="M785.9 862.4V871.8M789.3 860.3V864.9M792.7 830.1V864.2M796.1 826.4V841.5" stroke="#22a070" stroke-width="2" fill="none"/><path d="M783.2 863.6H788.6V866.9H783.2zM786.6 861.7H792.0V863.7H786.6zM790.0 834.4H795.4V861.9H790.0zM793.4 830.6H798.8V834.4H793.4z" fill="#22a070"/><path d="M799.5 827.9V835.3M802.9 825.0V833.4M806.3 792.3V804.5M809.7 799.7V820.9" stroke="#d7263d" stroke-width="2" fill="none"/><path d="M796.8 829.8H802.2V831.8H796.8zM800.2 830.4H805.6V832.4H800.2zM803.6 795.5H809.0V803.1H803.6zM807.0 803.1H812.4V818.1H807.0z" fill="#d7263d"/><path d="M813.1 802.1V820.5" stroke="#22a070" stroke-width="2" fill="none"/><path d="M810.4 813.6H815.9V818.1H810.4z" fill="#22a070"/><path d="M816.6 807.6V818.0" stroke="#d7263d" stroke-width="2" fill="none"/><path d="M813.9 813.6H819.3V816.4H813.9z" fill="#d7263d"/><path d="M820.0 810.1V828.1M823.4 807.1V818.2M826.8 801.9V823.0M830.2 796.9V812.3M833.6 793.6V804.6" stroke="#22a070" stroke-width="2" fill="none"/><path d="M817.3 815.2H822.7V817.2H817.3zM820.7 811.4H826.1V816.1H820.7zM824.1 805.6H829.5V811.4H824.1zM827.5 799.3H832.9V805.6H827.5zM830.9 797.7H836.3V799.7H830.9z" fill="#22a070"/><path d="M837.0 794.8V799.9M840.4 794.9V806.4M843.8 794.2V835.6" stroke="#d7263d" stroke-width="2" fill="none"/><path d="M834.3 797.1H839.7V799.1H834.3zM837.7 798.2H843.1V800.6H837.7zM841.1 800.6H846.5V815.1H841.1z" fill="#d7263d"/><path d="M847.2 799.7V825.6" stroke="#22a070" stroke-width="2" fill="none"/><path d="M844.5 801.8H850.0V815.1H844.5z" fill="#22a070"/><path d="M850.7 799.8V807.1M854.1 799.8V816.2M857.5 810.4V835.3M860.9 829.5V871.1M864.3 862.5V906.6" stroke="#d7263d" stroke-width="2" fill="none"/><path d="M848.0 801.8H853.4V806.1H848.0zM851.4 806.1H856.8V815.1H851.4zM854.8 815.1H860.2V833.1H854.8zM858.2 833.1H863.6V866.9H858.2zM861.6 866.9H867.0V897.7H861.6z" fill="#d7263d"/><path d="M867.7 887.2V898.8M871.1 874.7V898.7M874.5 860.8V881.1M877.9 856.0V871.3M881.4 850.3V864.2M884.8 836.1V855.5M888.2 792.8V847.8M891.6 770.5V809.3" stroke="#22a070" stroke-width="2" fill="none"/><path d="M865.0 895.7H870.4V897.7H865.0zM868.4 876.9H873.8V895.7H868.4zM871.8 868.2H877.2V876.9H871.8zM875.2 860.0H880.6V868.2H875.2zM878.6 854.4H884.1V860.0H878.6zM882.1 843.1H887.5V854.4H882.1zM885.5 796.8H890.9V843.1H885.5zM888.9 771.8H894.3V796.8H888.9z" fill="#22a070"/><path d="M895.0 763.9V786.3M898.4 776.9V793.8" stroke="#d7263d" stroke-width="2" fill="none"/><path d="M892.3 771.8H897.7V780.2H892.3zM895.7 780.2H901.1V782.5H895.7z" fill="#d7263d"/><path d="M901.8 779.5V787.1M905.2 775.8V781.7" stroke="#22a070" stroke-width="2" fill="none"/><path d="M899.1 780.5H904.5V782.5H899.1zM902.5 779.1H907.9V781.1H902.5z" fill="#22a070"/><path d="M908.6 770.9V792.1" stroke="#d7263d" stroke-width="2" fill="none"/><path d="M905.9 779.8H911.3V783.0H905.9z" fill="#d7263d"/><path d="M912.0 775.5V789.5M915.5 773.2V790.9M918.9 772.2V784.1M922.3 773.0V780.9" stroke="#22a070" stroke-width="2" fill="none"/><path d="M909.3 781.8H914.7V783.8H909.3zM912.8 780.8H918.2V782.8H912.8zM916.2 778.5H921.6V781.0H916.2zM919.6 774.3H925.0V778.5H919.6z" fill="#22a070"/><path d="M925.7 772.7V785.4M929.1 778.3V790.0" stroke="#d7263d" stroke-width="2" fill="none"/><path d="M923.0 774.3H928.4V779.5H923.0zM926.4 779.5H931.8V782.5H926.4z" fill="#d7263d"/><path d="M932.5 775.4V794.3M935.9 769.9V778.8M939.3 764.9V774.7M942.7 733.5V778.0M946.1 727.3V738.2" stroke="#22a070" stroke-width="2" fill="none"/><path d="M929.8 776.8H935.2V782.5H929.8zM933.2 773.0H938.6V776.8H933.2zM936.6 770.0H942.0V773.0H936.6zM940.0 736.7H945.4V770.0H940.0zM943.4 731.7H948.8V736.7H943.4z" fill="#22a070"/><path d="M949.6 728.6V738.3" stroke="#d7263d" stroke-width="2" fill="none"/><path d="M946.9 731.7H952.3V734.2H946.9z" fill="#d7263d"/><path d="M953.0 703.2V736.8M956.4 695.0V711.7" stroke="#22a070" stroke-width="2" fill="none"/><path d="M950.3 708.4H955.7V734.2H950.3zM953.7 697.4H959.1V708.4H953.7z" fill="#22a070"/><path d="M959.8 693.8V717.8" stroke="#d7263d" stroke-width="2" fill="none"/><path d="M957.1 697.4H962.5V707.4H957.1z" fill="#d7263d"/><path d="M963.2 699.6V708.4M966.6 686.3V724.2M970.0 694.5V701.6M973.4 694.2V700.7M976.8 678.8V698.5M980.2 674.1V685.3M983.6 596.9V680.3" stroke="#22a070" stroke-width="2" fill="none"/><path d="M960.5 703.7H965.9V707.4H960.5zM963.9 699.9H969.3V703.7H963.9zM967.3 697.9H972.7V699.9H967.3zM970.7 695.9H976.1V697.9H970.7zM974.1 680.8H979.5V695.9H974.1zM977.5 675.3H982.9V680.8H977.5zM980.9 606.4H986.4V675.3H980.9z" fill="#22a070"/><path d="M987.1 557.6V700.4" stroke="#d7263d" stroke-width="2" fill="none"/><path d="M984.4 606.4H989.8V657.3H984.4z" fill="#d7263d"/><path d="M990.5 614.0V661.1" stroke="#22a070" stroke-width="2" fill="none"/><path d="M987.8 619.7H993.2V657.3H987.8z" fill="#22a070"/><path d="M993.9 615.8V708.7M997.3 700.5V727.3M1000.7 721.6V768.0" stroke="#d7263d" stroke-width="2" fill="none"/><path d="M991.2 619.7H996.6V704.9H991.2zM994.6 704.9H1000.0V724.9H994.6zM998.0 724.9H1003.4V743.5H998.0z" fill="#d7263d"/><path d="M1004.1 713.6V744.6M1007.5 695.3V724.3M1010.9 675.9V702.7" stroke="#22a070" stroke-width="2" fill="none"/><path d="M1001.4 720.9H1006.8V743.5H1001.4zM1004.8 698.4H1010.2V720.9H1004.8zM1008.2 677.3H1013.6V698.4H1008.2z" fill="#22a070"/><path d="M1014.3 672.4V686.2" stroke="#d7263d" stroke-width="2" fill="none"/><path d="M1011.6 677.3H1017.0V682.3H1011.6z" fill="#d7263d"/><path d="M1017.8 670.2V685.8M1021.2 668.7V681.3M1024.6 644.0V672.7" stroke="#22a070" stroke-width="2" fill="none"/><path d="M1015.0 679.6H1020.5V682.3H1015.0zM1018.5 670.3H1023.9V679.6H1018.5zM1021.9 652.8H1027.3V670.3H1021.9z" fill="#22a070"/><path d="M1028.0 647.7V699.0" stroke="#d7263d" stroke-width="2" fill="none"/><path d="M1025.3 652.8H1030.7V694.9H1025.3z" fill="#d7263d"/><path d="M1031.4 679.8V724.2M1034.8 664.3V688.3M1038.2 652.2V682.2" stroke="#22a070" stroke-width="2" fill="none"/><path d="M1028.7 680.8H1034.1V694.9H1028.7zM1032.1 673.3H1037.5V680.8H1032.1zM1035.5 657.3H1040.9V673.3H1035.5z" fill="#22a070"/><path d="M1041.6 652.9V662.4" stroke="#d7263d" stroke-width="2" fill="none"/><path d="M1038.9 657.3H1044.3V660.8H1038.9z" fill="#d7263d"/><path d="M1045.0 641.8V663.4M1048.4 633.8V646.7M1051.9 633.0V645.1" stroke="#22a070" stroke-width="2" fill="none"/><path d="M1042.3 644.8H1047.7V660.8H1042.3zM1045.7 641.5H1051.1V644.8H1045.7zM1049.2 640.1H1054.6V642.1H1049.2z" fill="#22a070"/><path d="M1055.3 635.2V651.1" stroke="#d7263d" stroke-width="2" fill="none"/><path d="M1052.6 640.8H1058.0V644.0H1052.6z" fill="#d7263d"/><path d="M1058.7 628.7V646.5" stroke="#22a070" stroke-width="2" fill="none"/><path d="M1056.0 635.2H1061.4V644.0H1056.0z" fill="#22a070"/><path d="M1062.1 626.6V639.4" stroke="#d7263d" stroke-width="2" fill="none"/><path d="M1059.4 634.9H1064.8V636.9H1059.4z" fill="#d7263d"/><path d="M1065.5 622.6V647.6" stroke="#22a070" stroke-width="2" fill="none"/><path d="M1062.8 624.7H1068.2V636.5H1062.8z" fill="#22a070"/><path d="M1068.9 621.4V648.8M1072.3 641.4V668.3M1075.7 659.2V701.1" stroke="#d7263d" stroke-width="2" fill="none"/><path d="M1066.2 624.7H1071.6V644.8H1066.2zM1069.6 644.8H1075.0V664.8H1069.6zM1073.0 664.8H1078.4V694.9H1073.0z" fill="#d7263d"/><path d="M1079.1 661.0V697.0" stroke="#22a070" stroke-width="2" fill="none"/><path d="M1076.4 663.3H1081.8V694.9H1076.4z" fill="#22a070"/><path d="M1082.5 656.4V679.2" stroke="#d7263d" stroke-width="2" fill="none"/><path d="M1079.8 663.3H1085.2V677.3H1079.8z" fill="#d7263d"/><path d="M1086.0 634.8V686.6M1089.4 635.7V639.6M1092.8 628.9V643.0" stroke="#22a070" stroke-width="2" fill="none"/><path d="M1083.2 638.3H1088.7V677.3H1083.2zM1086.7 636.8H1092.1V638.8H1086.7zM1090.1 631.5H1095.5V637.3H1090.1z" fill="#22a070"/><path d="M1096.2 624.2V670.3" stroke="#d7263d" stroke-width="2" fill="none"/><path d="M1093.5 631.5H1098.9V647.3H1093.5z" fill="#d7263d"/><path d="M1099.6 637.2V651.7M1103.0 636.9V646.3M1106.4 609.0V641.0M1109.8 611.9V622.6M1113.2 593.9V614.3M1116.6 586.6V604.3M1120.1 583.3V600.6M1123.5 584.7V591.6M1126.9 569.7V590.9M1130.3 542.4V576.9M1133.7 539.6V552.6" stroke="#22a070" stroke-width="2" fill="none"/><path d="M1096.9 642.0H1102.3V647.3H1096.9zM1100.3 638.3H1105.7V642.0H1100.3zM1103.7 620.7H1109.1V638.3H1103.7zM1107.1 613.2H1112.5V620.7H1107.1zM1110.5 601.7H1115.9V613.2H1110.5zM1113.9 590.7H1119.3V601.7H1113.9zM1117.4 589.0H1122.8V591.0H1117.4zM1120.8 585.9H1126.2V589.4H1120.8zM1124.2 573.1H1129.6V585.9H1124.2zM1127.6 544.6H1133.0V573.1H1127.6zM1131.0 542.7H1136.4V544.7H1131.0z" fill="#22a070"/><path d="M1137.1 538.7V546.2" stroke="#d7263d" stroke-width="2" fill="none"/><path d="M1134.4 542.8H1139.8V545.1H1134.4z" fill="#d7263d"/><path d="M1140.5 538.3V546.8M1143.9 518.1V547.0" stroke="#22a070" stroke-width="2" fill="none"/><path d="M1137.8 543.1H1143.2V545.1H1137.8zM1141.2 520.5H1146.6V543.1H1141.2z" fill="#22a070"/><path d="M1147.3 518.2V529.8M1150.7 517.2V543.7M1154.2 528.2V545.7" stroke="#d7263d" stroke-width="2" fill="none"/><path d="M1144.6 519.9H1150.0V521.9H1144.6zM1148.0 521.3H1153.4V532.1H1148.0zM1151.5 532.1H1156.9V544.6H1151.5z" fill="#d7263d"/><path d="M1157.6 540.8V550.2M1161.0 524.0V553.0M1164.4 515.8V535.1" stroke="#22a070" stroke-width="2" fill="none"/><path d="M1154.9 542.6H1160.3V544.6H1154.9zM1158.3 530.6H1163.7V542.6H1158.3zM1161.7 519.5H1167.1V530.6H1161.7z" fill="#22a070"/><path d="M1167.8 515.7V582.5M1171.2 567.7V619.4" stroke="#d7263d" stroke-width="2" fill="none"/><path d="M1165.1 519.5H1170.5V569.6H1165.1zM1168.5 569.6H1173.9V617.2H1168.5z" fill="#d7263d"/><path d="M1174.6 602.5V619.9M1178.0 590.4V634.0" stroke="#22a070" stroke-width="2" fill="none"/><path d="M1171.9 607.7H1177.3V617.2H1171.9zM1175.3 598.9H1180.7V607.7H1175.3z" fill="#22a070"/><path d="M1181.4 596.2V678.1" stroke="#d7263d" stroke-width="2" fill="none"/><path d="M1178.7 598.9H1184.1V661.5H1178.7z" fill="#d7263d"/><path d="M1184.8 626.1V679.1M1188.3 620.6V641.4" stroke="#22a070" stroke-width="2" fill="none"/><path d="M1182.1 630.7H1187.5V661.5H1182.1zM1185.6 625.7H1191.0V630.7H1185.6z" fill="#22a070"/><path d="M1191.7 624.7V639.4M1195.1 634.0V679.6M1198.5 671.0V736.7" stroke="#d7263d" stroke-width="2" fill="none"/><path d="M1189.0 625.7H1194.4V637.3H1189.0zM1192.4 637.3H1197.8V674.8H1192.4zM1195.8 674.8H1201.2V717.4H1195.8z" fill="#d7263d"/><path d="M1201.9 714.9V765.5M1205.3 713.3V766.4" stroke="#22a070" stroke-width="2" fill="none"/><path d="M1199.2 715.7H1204.6V717.7H1199.2zM1202.6 714.6H1208.0V716.6H1202.6z" fill="#22a070"/><path d="M1208.7 696.6V719.2" stroke="#d7263d" stroke-width="2" fill="none"/><path d="M1206.0 715.1H1211.4V717.6H1206.0z" fill="#d7263d"/><path d="M1212.1 709.8V719.3" stroke="#22a070" stroke-width="2" fill="none"/><path d="M1209.4 713.8H1214.8V717.6H1209.4z" fill="#22a070"/><path d="M1215.5 682.5V824.8M1218.9 814.2V835.1M1222.4 823.9V857.4M1225.8 846.8V1025.6" stroke="#d7263d" stroke-width="2" fill="none"/><path d="M1212.8 713.8H1218.2V817.3H1212.8zM1216.2 817.3H1221.6V829.8H1216.2zM1219.7 829.8H1225.1V854.8H1219.7zM1223.1 854.8H1228.5V963.8H1223.1z" fill="#d7263d"/><path d="M1229.2 933.5V976.8M1232.6 899.0V937.6M1236.0 870.4V906.3" stroke="#22a070" stroke-width="2" fill="none"/><path d="M1226.5 936.0H1231.9V963.8H1226.5zM1229.9 900.9H1235.3V936.0H1229.9zM1233.3 878.4H1238.7V900.9H1233.3z" fill="#22a070"/><path d="M1239.4 877.2V892.7M1242.8 887.8V906.3" stroke="#d7263d" stroke-width="2" fill="none"/><path d="M1236.7 878.4H1242.1V890.4H1236.7zM1240.1 890.4H1245.5V904.9H1240.1z" fill="#d7263d"/><path d="M1246.2 884.3V907.6" stroke="#22a070" stroke-width="2" fill="none"/><path d="M1243.5 888.4H1248.9V904.9H1243.5z" fill="#22a070"/><path d="M1249.6 887.2V908.0" stroke="#d7263d" stroke-width="2" fill="none"/><path d="M1246.9 888.4H1252.3V897.4H1246.9z" fill="#d7263d"/><path d="M1253.0 831.6V915.4" stroke="#22a070" stroke-width="2" fill="none"/><path d="M1250.3 834.5H1255.7V897.4H1250.3z" fill="#22a070"/><path d="M1256.5 827.5V880.0M1259.9 875.8V910.5M1263.3 899.9V940.3M1266.7 927.4V938.7" stroke="#d7263d" stroke-width="2" fill="none"/><path d="M1253.8 834.5H1259.2V877.4H1253.8zM1257.2 877.4H1262.6V902.4H1257.2zM1260.6 902.4H1266.0V936.0H1260.6zM1264.0 935.7H1269.4V937.7H1264.0z" fill="#d7263d"/><path d="M1270.1 900.9V941.7" stroke="#22a070" stroke-width="2" fill="none"/><path d="M1267.4 907.4H1272.8V937.5H1267.4z" fill="#22a070"/><path d="M1273.5 905.5V910.5M1276.9 907.7V965.5" stroke="#d7263d" stroke-width="2" fill="none"/><path d="M1270.8 907.3H1276.2V909.3H1270.8zM1274.2 909.2H1279.6V957.5H1274.2z" fill="#d7263d"/><path d="M1280.3 941.8V980.6" stroke="#22a070" stroke-width="2" fill="none"/><path d="M1277.6 953.5H1283.0V957.5H1277.6z" fill="#22a070"/><path d="M1283.7 949.9V968.3" stroke="#d7263d" stroke-width="2" fill="none"/><path d="M1281.0 953.5H1286.4V965.0H1281.0z" fill="#d7263d"/><path d="M1287.1 936.7V968.3M1290.6 917.4V944.7M1294.0 902.5V928.9M1297.4 884.0V913.9" stroke="#22a070" stroke-width="2" fill="none"/><path d="M1284.4 942.5H1289.8V965.0H1284.4zM1287.9 920.9H1293.3V942.5H1287.9zM1291.3 905.9H1296.7V920.9H1291.3zM1294.7 888.4H1300.1V905.9H1294.7z" fill="#22a070"/><path d="M1300.8 884.3V933.5M1304.2 927.2V984.9M1307.6 978.7V1005.4M1311.0 999.2V1023.1" stroke="#d7263d" stroke-width="2" fill="none"/><path d="M1298.1 888.4H1303.5V930.0H1298.1zM1301.5 930.0H1306.9V980.1H1301.5zM1304.9 980.1H1310.3V1002.6H1304.9zM1308.3 1002.6H1313.7V1012.6H1308.3z" fill="#d7263d"/><path d="M1314.4 983.8V1015.3M1317.8 977.0V987.0" stroke="#22a070" stroke-width="2" fill="none"/><path d="M1311.7 984.8H1317.1V1012.6H1311.7zM1315.1 983.2H1320.5V985.2H1315.1z" fill="#22a070"/><path d="M1321.2 976.8V1033.3M1324.7 1010.2V1032.6M1328.1 1021.5V1079.5" stroke="#d7263d" stroke-width="2" fill="none"/><path d="M1318.5 983.6H1323.9V1021.1H1318.5zM1322.0 1020.9H1327.4V1022.9H1322.0zM1325.4 1022.6H1330.8V1055.2H1325.4z" fill="#d7263d"/><path d="M1331.5 1002.3V1059.2" stroke="#22a070" stroke-width="2" fill="none"/><path d="M1328.8 1007.6H1334.2V1055.2H1328.8z" fill="#22a070"/><path d="M1334.9 1005.4V1014.4" stroke="#d7263d" stroke-width="2" fill="none"/><path d="M1332.2 1007.1H1337.6V1009.1H1332.2z" fill="#d7263d"/><path d="M1338.3 1002.1V1014.3M1341.7 964.1V1023.1" stroke="#22a070" stroke-width="2" fill="none"/><path d="M1335.6 1003.6H1341.0V1008.6H1335.6zM1339.0 970.0H1344.4V1003.6H1339.0z" fill="#22a070"/><path d="M1345.1 968.9V1024.4M1348.5 970.9V990.5" stroke="#d7263d" stroke-width="2" fill="none"/><path d="M1342.4 970.0H1347.8V973.0H1342.4zM1345.8 973.0H1351.2V987.6H1345.8z" fill="#d7263d"/><path d="M1351.9 954.5V991.7M1355.3 950.0V960.3M1358.8 946.3V959.0" stroke="#22a070" stroke-width="2" fill="none"/><path d="M1349.2 957.5H1354.6V987.6H1349.2zM1352.6 955.0H1358.0V957.5H1352.6zM1356.1 947.5H1361.5V955.0H1356.1z" fill="#22a070"/><path d="M1362.2 905.4V980.7M1365.6 970.0V1026.9" stroke="#d7263d" stroke-width="2" fill="none"/><path d="M1359.5 947.5H1364.9V976.3H1359.5zM1362.9 976.3H1368.3V978.6H1362.9z" fill="#d7263d"/><path d="M1369.0 949.0V981.4M1372.4 893.7V963.1M1375.8 889.1V907.1M1379.2 847.5V917.9" stroke="#22a070" stroke-width="2" fill="none"/><path d="M1366.3 953.5H1371.7V978.6H1366.3zM1369.7 905.9H1375.1V953.5H1369.7zM1373.1 893.4H1378.5V905.9H1373.1zM1376.5 850.8H1381.9V893.4H1376.5z" fill="#22a070"/><path d="M1382.6 847.7V864.7M1386.0 854.4V882.9" stroke="#d7263d" stroke-width="2" fill="none"/><path d="M1379.9 850.8H1385.3V863.6H1379.9zM1383.3 863.2H1388.7V865.2H1383.3z" fill="#d7263d"/><path d="M1389.4 836.9V874.2" stroke="#22a070" stroke-width="2" fill="none"/><path d="M1386.7 843.3H1392.1V864.8H1386.7z" fill="#22a070"/><path d="M1392.9 838.7V854.3" stroke="#d7263d" stroke-width="2" fill="none"/><path d="M1390.2 843.3H1395.6V852.3H1390.2z" fill="#d7263d"/><path d="M1396.3 827.6V855.3M1399.7 813.9V832.8" stroke="#22a070" stroke-width="2" fill="none"/><path d="M1393.6 830.8H1399.0V852.3H1393.6zM1397.0 820.8H1402.4V830.8H1397.0z" fill="#22a070"/><path d="M1403.1 815.8V845.1" stroke="#d7263d" stroke-width="2" fill="none"/><path d="M1400.4 820.8H1405.8V842.3H1400.4z" fill="#d7263d"/><path d="M1406.5 819.0V847.0M1409.9 808.0V832.1" stroke="#22a070" stroke-width="2" fill="none"/><path d="M1403.8 823.3H1409.2V842.3H1403.8zM1407.2 809.5H1412.6V823.3H1407.2z" fill="#22a070"/><path d="M1413.3 806.5V831.5" stroke="#d7263d" stroke-width="2" fill="none"/><path d="M1410.6 809.5H1416.0V829.8H1410.6z" fill="#d7263d"/><path d="M1416.7 789.6V837.8M1420.1 786.3V800.9M1423.5 744.0V791.6" stroke="#22a070" stroke-width="2" fill="none"/><path d="M1414.0 795.7H1419.4V829.8H1414.0zM1417.4 788.2H1422.8V795.7H1417.4zM1420.8 746.9H1426.2V788.2H1420.8z" fill="#22a070"/><path d="M1427.0 745.7V765.5" stroke="#d7263d" stroke-width="2" fill="none"/><path d="M1424.2 746.9H1429.7V758.4H1424.2z" fill="#d7263d"/><path d="M1430.4 755.4V761.9M1433.8 717.6V759.4M1437.2 726.6V735.4" stroke="#22a070" stroke-width="2" fill="none"/><path d="M1427.7 757.3H1433.1V759.3H1427.7zM1431.1 731.8H1436.5V758.1H1431.1zM1434.5 728.8H1439.9V731.8H1434.5z" fill="#22a070"/><path d="M1440.6 726.7V736.9M1444.0 730.5V772.4" stroke="#d7263d" stroke-width="2" fill="none"/><path d="M1437.9 728.8H1443.3V733.1H1437.9zM1441.3 733.1H1446.7V765.9H1441.3z" fill="#d7263d"/><path d="M1447.4 736.4V767.7" stroke="#22a070" stroke-width="2" fill="none"/><path d="M1444.7 739.4H1450.1V765.9H1444.7z" fill="#22a070"/><path d="M1450.8 733.9V771.6M1454.2 764.9V779.7" stroke="#d7263d" stroke-width="2" fill="none"/><path d="M1448.1 739.4H1453.5V767.2H1448.1zM1451.5 767.2H1456.9V777.2H1451.5z" fill="#d7263d"/><path d="M1457.6 716.0V784.1M1461.1 710.5V723.5" stroke="#22a070" stroke-width="2" fill="none"/><path d="M1454.9 720.6H1460.3V777.2H1454.9zM1458.4 714.6H1463.8V720.6H1458.4z" fill="#22a070"/><path d="M1464.5 709.6V762.3" stroke="#d7263d" stroke-width="2" fill="none"/><path d="M1461.8 714.6H1467.2V750.9H1461.8z" fill="#d7263d"/><path d="M1467.9 719.9V757.3M1471.3 684.1V727.7M1474.7 671.5V700.4" stroke="#22a070" stroke-width="2" fill="none"/><path d="M1465.2 723.1H1470.6V750.9H1465.2zM1468.6 688.0H1474.0V723.1H1468.6zM1472.0 682.5H1477.4V688.0H1472.0z" fill="#22a070"/><path d="M1478.1 679.5V698.8M1481.5 694.2V708.6" stroke="#d7263d" stroke-width="2" fill="none"/><path d="M1475.4 682.5H1480.8V695.6H1475.4zM1478.8 695.6H1484.2V704.5H1478.8z" fill="#d7263d"/><path d="M1484.9 686.8V705.9" stroke="#22a070" stroke-width="2" fill="none"/><path d="M1482.2 697.5H1487.6V704.5H1482.2z" fill="#22a070"/><path d="M1488.3 689.1V731.3" stroke="#d7263d" stroke-width="2" fill="none"/><path d="M1485.6 697.5H1491.0V701.3H1485.6z" fill="#d7263d"/><path d="M1491.7 676.3V707.5" stroke="#22a070" stroke-width="2" fill="none"/><path d="M1489.0 685.0H1494.4V701.3H1489.0z" fill="#22a070"/><path d="M1495.2 681.4V698.7M1498.6 690.4V708.6M1502.0 699.8V719.2M1505.4 704.2V742.7M1508.8 733.7V804.0" stroke="#d7263d" stroke-width="2" fill="none"/><path d="M1492.5 685.0H1497.9V697.0H1492.5zM1495.9 697.0H1501.3V707.1H1495.9zM1499.3 707.1H1504.7V710.6H1499.3zM1502.7 710.6H1508.1V738.4H1502.7zM1506.1 738.4H1511.5V788.5H1506.1z" fill="#d7263d"/><path d="M1512.2 773.7V792.4" stroke="#22a070" stroke-width="2" fill="none"/><path d="M1509.5 776.9H1514.9V788.5H1509.5z" fill="#22a070"/><path d="M1515.6 765.8V829.6M1519.0 822.2V837.8" stroke="#d7263d" stroke-width="2" fill="none"/><path d="M1512.9 776.9H1518.3V827.3H1512.9zM1516.3 826.5H1521.7V828.5H1516.3z" fill="#d7263d"/><path d="M1522.4 805.8V849.1M1525.8 799.0V814.0" stroke="#22a070" stroke-width="2" fill="none"/><path d="M1519.7 810.7H1525.1V827.8H1519.7zM1523.1 800.7H1528.5V810.7H1523.1z" fill="#22a070"/><path d="M1529.3 788.2V818.8" stroke="#d7263d" stroke-width="2" fill="none"/><path d="M1526.6 800.7H1532.0V813.5H1526.6z" fill="#d7263d"/><path d="M1532.7 788.2V830.3M1536.1 777.0V793.7M1539.5 760.7V786.5M1542.9 743.6V770.3M1546.3 721.6V750.0M1549.7 702.6V729.2" stroke="#22a070" stroke-width="2" fill="none"/><path d="M1530.0 790.7H1535.4V813.5H1530.0zM1533.4 781.9H1538.8V790.7H1533.4zM1536.8 766.9H1542.2V781.9H1536.8zM1540.2 745.8H1545.6V766.9H1540.2zM1543.6 723.3H1549.0V745.8H1543.6zM1547.0 710.8H1552.4V723.3H1547.0z" fill="#22a070"/><path d="M1553.1 708.4V726.1M1556.5 720.7V736.5" stroke="#d7263d" stroke-width="2" fill="none"/><path d="M1550.4 710.8H1555.8V722.6H1550.4zM1553.8 722.6H1559.2V731.1H1553.8z" fill="#d7263d"/><path d="M1559.9 690.4V732.6M1563.4 622.2V699.1" stroke="#22a070" stroke-width="2" fill="none"/><path d="M1557.2 695.8H1562.6V731.1H1557.2zM1560.7 625.6H1566.1V695.8H1560.7z" fill="#22a070"/><path d="M1566.8 623.1V667.7" stroke="#d7263d" stroke-width="2" fill="none"/><path d="M1564.1 625.6H1569.5V657.2H1564.1z" fill="#d7263d"/><path d="M1570.2 629.0V659.7M1573.6 629.6V637.9M1577.0 610.9V633.5" stroke="#22a070" stroke-width="2" fill="none"/><path d="M1567.5 635.6H1572.9V657.2H1567.5zM1570.9 630.6H1576.3V635.6H1570.9zM1574.3 613.1H1579.7V630.6H1574.3z" fill="#22a070"/><path d="M1580.4 607.5V639.0M1583.8 631.0V648.4" stroke="#d7263d" stroke-width="2" fill="none"/><path d="M1577.7 613.1H1583.1V634.6H1577.7zM1581.1 634.6H1586.5V644.7H1581.1z" fill="#d7263d"/><path d="M1587.2 620.7V662.7M1590.6 620.0V630.8" stroke="#22a070" stroke-width="2" fill="none"/><path d="M1584.5 626.9H1589.9V644.7H1584.5zM1587.9 625.9H1593.3V627.9H1587.9z" fill="#22a070"/><path d="M1594.0 621.3V637.2" stroke="#d7263d" stroke-width="2" fill="none"/><path d="M1591.3 626.9H1596.7V634.6H1591.3z" fill="#d7263d"/><path d="M1597.5 608.4V657.7M1600.9 603.8V616.8M1604.3 603.9V616.9" stroke="#22a070" stroke-width="2" fill="none"/><path d="M1594.8 615.6H1600.2V634.6H1594.8zM1598.2 608.1H1603.6V615.6H1598.2zM1601.6 605.6H1607.0V608.1H1601.6z" fill="#22a070"/><path d="M1607.7 601.8V623.8M1611.1 591.3V633.5" stroke="#d7263d" stroke-width="2" fill="none"/><path d="M1605.0 605.6H1610.4V622.1H1605.0zM1608.4 622.1H1613.8V632.1H1608.4z" fill="#d7263d"/><path d="M1614.5 621.3V636.6M1617.9 609.3V629.3" stroke="#22a070" stroke-width="2" fill="none"/><path d="M1611.8 625.6H1617.2V632.1H1611.8zM1615.2 614.4H1620.6V625.6H1615.2z" fill="#22a070"/><path d="M1621.3 612.1V654.5M1624.7 651.2V689.6" stroke="#d7263d" stroke-width="2" fill="none"/><path d="M1618.6 614.4H1624.0V653.4H1618.6zM1622.0 653.4H1627.4V687.2H1622.0z" fill="#d7263d"/><path d="M1628.1 653.9V696.0" stroke="#22a070" stroke-width="2" fill="none"/><path d="M1625.4 655.7H1630.8V687.2H1625.4z" fill="#22a070"/><path d="M1631.6 653.2V678.3M1635.0 671.8V680.8" stroke="#d7263d" stroke-width="2" fill="none"/><path d="M1628.9 655.7H1634.3V677.2H1628.9zM1632.3 677.2H1637.7V679.7H1632.3z" fill="#d7263d"/><path d="M1638.4 648.6V681.5" stroke="#22a070" stroke-width="2" fill="none"/><path d="M1635.7 651.9H1641.1V679.7H1635.7z" fill="#22a070"/><path d="M1641.8 641.6V677.4M1645.2 662.8V699.0M1648.6 684.3V720.3" stroke="#d7263d" stroke-width="2" fill="none"/><path d="M1639.1 651.9H1644.5V664.7H1639.1zM1642.5 664.7H1647.9V689.7H1642.5zM1645.9 689.7H1651.3V702.3H1645.9z" fill="#d7263d"/><path d="M1652.0 658.4V703.8" stroke="#22a070" stroke-width="2" fill="none"/><path d="M1649.3 670.7H1654.7V702.3H1649.3z" fill="#22a070"/><path d="M1655.4 667.4V702.1M1658.8 696.3V718.4" stroke="#d7263d" stroke-width="2" fill="none"/><path d="M1652.7 670.7H1658.1V699.8H1652.7zM1656.1 699.8H1661.5V707.3H1656.1z" fill="#d7263d"/><path d="M1662.2 679.6V709.9" stroke="#22a070" stroke-width="2" fill="none"/><path d="M1659.5 684.5H1664.9V707.3H1659.5z" fill="#22a070"/><path d="M1665.7 667.7V712.8M1669.1 688.4V710.5M1672.5 705.3V753.1M1675.9 738.7V781.0M1679.3 778.0V788.1" stroke="#d7263d" stroke-width="2" fill="none"/><path d="M1663.0 684.5H1668.4V692.2H1663.0zM1666.4 692.2H1671.8V707.3H1666.4zM1669.8 707.3H1675.2V749.9H1669.8zM1673.2 749.9H1678.6V779.9H1673.2zM1676.6 779.9H1682.0V783.7H1676.6z" fill="#d7263d"/><path d="M1682.7 760.9V784.8M1686.1 749.6V767.5M1689.5 695.3V763.3" stroke="#22a070" stroke-width="2" fill="none"/><path d="M1680.0 765.9H1685.4V783.7H1680.0zM1683.4 753.4H1688.8V765.9H1683.4zM1686.8 705.8H1692.2V753.4H1686.8z" fill="#22a070"/><path d="M1692.9 700.7V747.0M1696.3 732.5V767.8M1699.8 754.7V784.6" stroke="#d7263d" stroke-width="2" fill="none"/><path d="M1690.2 705.8H1695.6V737.3H1690.2zM1693.6 737.3H1699.0V759.9H1693.6zM1697.1 759.9H1702.5V779.9H1697.1z" fill="#d7263d"/><path d="M1703.2 757.1V784.1" stroke="#22a070" stroke-width="2" fill="none"/><path d="M1700.5 760.9H1705.9V779.9H1700.5z" fill="#22a070"/><path d="M1706.6 755.9V790.0M1710.0 775.8V833.0M1713.4 815.3V844.7" stroke="#d7263d" stroke-width="2" fill="none"/><path d="M1703.9 760.9H1709.3V784.9H1703.9zM1707.3 784.9H1712.7V827.5H1707.3zM1710.7 827.5H1716.1V835.0H1710.7z" fill="#d7263d"/><path d="M1716.8 816.9V839.3" stroke="#22a070" stroke-width="2" fill="none"/><path d="M1714.1 821.0H1719.5V835.0H1714.1z" fill="#22a070"/><path d="M1720.2 818.9V841.0M1723.6 829.7V846.4" stroke="#d7263d" stroke-width="2" fill="none"/><path d="M1717.5 821.0H1722.9V836.6H1717.5zM1720.9 836.6H1726.3V845.0H1720.9z" fill="#d7263d"/><path d="M1727.0 816.3V851.9M1730.4 804.8V824.2M1733.9 806.4V810.9" stroke="#22a070" stroke-width="2" fill="none"/><path d="M1724.3 822.2H1729.7V845.0H1724.3zM1727.7 808.5H1733.1V822.2H1727.7zM1731.2 807.0H1736.6V809.0H1731.2z" fill="#22a070"/><path d="M1737.3 805.0V830.0M1740.7 816.6V863.1M1744.1 835.8V872.0M1747.5 866.5V891.9M1750.9 866.6V880.1M1754.3 873.9V900.6" stroke="#d7263d" stroke-width="2" fill="none"/><path d="M1734.6 807.5H1740.0V825.9H1734.6zM1738.0 825.9H1743.4V842.5H1738.0zM1741.4 842.5H1746.8V867.6H1741.4zM1744.8 867.6H1750.2V870.1H1744.8zM1748.2 870.1H1753.6V878.5H1748.2zM1751.6 878.5H1757.0V886.4H1751.6z" fill="#d7263d"/><path d="M1757.7 836.8V903.1" stroke="#22a070" stroke-width="2" fill="none"/><path d="M1755.0 858.6H1760.4V886.4H1755.0z" fill="#22a070"/><path d="M1761.1 855.4V878.5" stroke="#d7263d" stroke-width="2" fill="none"/><path d="M1758.4 858.6H1763.8V875.1H1758.4z" fill="#d7263d"/><path d="M1764.5 847.0V876.9M1768.0 829.5V849.6" stroke="#22a070" stroke-width="2" fill="none"/><path d="M1761.8 848.5H1767.2V875.1H1761.8zM1765.3 834.8H1770.7V848.5H1765.3z" fill="#22a070"/><path d="M1771.4 816.7V839.6M1774.8 811.7V856.9" stroke="#d7263d" stroke-width="2" fill="none"/><path d="M1768.7 834.4H1774.1V836.4H1768.7zM1772.1 836.0H1777.5V850.0H1772.1z" fill="#d7263d"/><path d="M1778.2 842.0V852.7" stroke="#22a070" stroke-width="2" fill="none"/><path d="M1775.5 845.5H1780.9V850.0H1775.5z" fill="#22a070"/><path d="M1781.6 840.9V852.1" stroke="#d7263d" stroke-width="2" fill="none"/><path d="M1778.9 845.5H1784.3V847.5H1778.9z" fill="#d7263d"/><path d="M1785.0 818.0V856.4M1788.4 797.3V829.5" stroke="#22a070" stroke-width="2" fill="none"/><path d="M1782.3 826.0H1787.7V847.5H1782.3zM1785.7 798.4H1791.1V826.0H1785.7z" fill="#22a070"/><path d="M1791.8 792.2V824.6" stroke="#d7263d" stroke-width="2" fill="none"/><path d="M1789.1 798.4H1794.5V820.0H1789.1z" fill="#d7263d"/><path d="M1795.2 783.3V826.7" stroke="#22a070" stroke-width="2" fill="none"/><path d="M1792.5 789.7H1797.9V820.0H1792.5z" fill="#22a070"/><path d="M1798.6 785.8V794.0M1802.1 783.5V849.3M1805.5 811.1V835.1M1808.9 804.2V842.4M1812.3 829.8V937.0M1815.7 914.1V950.2" stroke="#d7263d" stroke-width="2" fill="none"/><path d="M1795.9 789.3H1801.3V791.3H1795.9zM1799.4 790.9H1804.8V816.0H1799.4zM1802.8 816.0H1808.2V832.5H1802.8zM1806.2 832.5H1811.6V837.5H1806.2zM1809.6 837.5H1815.0V915.2H1809.6zM1813.0 915.2H1818.4V939.5H1813.0z" fill="#d7263d"/><path d="M1819.1 874.8V952.6M1822.5 861.1V946.1M1825.9 856.5V868.6" stroke="#22a070" stroke-width="2" fill="none"/><path d="M1816.4 881.1H1821.8V939.5H1816.4zM1819.8 864.8H1825.2V881.1H1819.8zM1823.2 863.8H1828.6V865.8H1823.2z" fill="#22a070"/><path d="M1829.3 858.1V967.5M1832.7 871.5V1016.2M1836.2 976.0V1011.0" stroke="#d7263d" stroke-width="2" fill="none"/><path d="M1826.6 864.8H1832.0V874.8H1826.6zM1830.0 874.8H1835.4V979.0H1830.0zM1833.5 979.0H1838.9V991.9H1833.5z" fill="#d7263d"/><path d="M1839.6 970.7V993.2" stroke="#22a070" stroke-width="2" fill="none"/><path d="M1836.9 978.2H1842.3V991.9H1836.9z" fill="#22a070"/><path d="M1843.0 976.1V996.9M1846.4 991.0V1010.0M1849.8 995.4V1012.7M1853.2 1006.4V1023.3M1856.6 1005.7V1055.8" stroke="#d7263d" stroke-width="2" fill="none"/><path d="M1840.3 978.2H1845.7V993.4H1840.3zM1843.7 993.4H1849.1V1005.5H1843.7zM1847.1 1005.5H1852.5V1008.9H1847.1zM1850.5 1008.9H1855.9V1015.3H1850.5zM1853.9 1015.3H1859.3V1048.4H1853.9z" fill="#d7263d"/><path d="M1860.0 1026.4V1070.8M1863.4 979.5V1033.5M1866.8 973.0V983.9" stroke="#22a070" stroke-width="2" fill="none"/><path d="M1857.3 1027.5H1862.7V1048.4H1857.3zM1860.7 980.8H1866.1V1027.5H1860.7zM1864.1 974.3H1869.5V980.8H1864.1z" fill="#22a070"/><path d="M1870.3 970.1V1020.2" stroke="#d7263d" stroke-width="2" fill="none"/><path d="M1867.6 974.3H1873.0V1017.9H1867.6z" fill="#d7263d"/><path d="M1873.7 1004.5V1025.4M1877.1 994.5V1018.5M1880.5 988.0V1002.9M1883.9 923.4V992.5" stroke="#22a070" stroke-width="2" fill="none"/><path d="M1871.0 1009.4H1876.4V1017.9H1871.0zM1874.4 998.5H1879.8V1009.4H1874.4zM1877.8 989.9H1883.2V998.5H1877.8zM1881.2 932.1H1886.6V989.9H1881.2z" fill="#22a070"/><path d="M1887.3 919.5V954.1M1890.7 946.2V977.9M1894.1 966.4V1010.5" stroke="#d7263d" stroke-width="2" fill="none"/><path d="M1884.6 932.1H1890.0V947.8H1884.6zM1888.0 947.8H1893.4V970.5H1888.0zM1891.4 970.5H1896.8V1008.8H1891.4z" fill="#d7263d"/><path d="M1897.5 971.4V1010.4M1900.9 918.5V977.3" stroke="#22a070" stroke-width="2" fill="none"/><path d="M1894.8 973.0H1900.2V1008.8H1894.8zM1898.2 919.7H1903.6V973.0H1898.2z" fill="#22a070"/><path d="M1904.4 918.3V945.3" stroke="#d7263d" stroke-width="2" fill="none"/><path d="M1901.7 919.7H1907.1V933.5H1901.7z" fill="#d7263d"/><path d="M1907.8 849.1V938.5" stroke="#22a070" stroke-width="2" fill="none"/><path d="M1905.1 855.2H1910.5V933.5H1905.1z" fill="#22a070"/><path d="M1911.2 851.3V884.3M1914.6 878.9V936.1M1918.0 919.6V931.8M1921.4 918.4V954.4M1924.8 933.1V946.1M1928.2 928.6V967.6M1931.6 950.5V985.7" stroke="#d7263d" stroke-width="2" fill="none"/><path d="M1908.5 855.2H1913.9V880.5H1908.5zM1911.9 880.5H1917.3V925.3H1911.9zM1915.3 924.5H1920.7V926.5H1915.3zM1918.7 925.7H1924.1V942.6H1918.7zM1922.1 942.1H1927.5V944.1H1922.1zM1925.5 943.5H1930.9V958.2H1925.5zM1928.9 958.2H1934.3V976.4H1928.9z" fill="#d7263d"/><path d="M1935.0 954.2V996.1" stroke="#22a070" stroke-width="2" fill="none"/><path d="M1932.3 958.7H1937.7V976.4H1932.3z" fill="#22a070"/><path d="M1938.5 956.2V1012.0" stroke="#d7263d" stroke-width="2" fill="none"/><path d="M1935.8 958.7H1941.2V1004.9H1935.8z" fill="#d7263d"/><path d="M1941.9 955.5V1014.3M1945.3 942.8V967.0" stroke="#22a070" stroke-width="2" fill="none"/><path d="M1939.2 965.2H1944.6V1004.9H1939.2zM1942.6 944.4H1948.0V965.2H1942.6z" fill="#22a070"/><path d="M1948.7 935.3V957.5M1952.1 908.4V965.1M1955.5 959.8V1003.6" stroke="#d7263d" stroke-width="2" fill="none"/><path d="M1946.0 944.4H1951.4V950.1H1946.0zM1949.4 950.1H1954.8V962.1H1949.4zM1952.8 962.1H1958.2V1002.3H1952.8z" fill="#d7263d"/><path d="M1958.9 979.4V1009.3M1962.3 964.4V1007.1" stroke="#22a070" stroke-width="2" fill="none"/><path d="M1956.2 982.6H1961.6V1002.3H1956.2zM1959.6 967.8H1965.0V982.6H1959.6z" fill="#22a070"/><path d="M1965.7 961.3V1004.5" stroke="#d7263d" stroke-width="2" fill="none"/><path d="M1963.0 967.8H1968.4V1001.0H1963.0z" fill="#d7263d"/><path d="M1969.1 971.8V1008.3M1972.6 939.4V987.8" stroke="#22a070" stroke-width="2" fill="none"/><path d="M1966.4 978.2H1971.8V1001.0H1966.4zM1969.9 944.4H1975.3V978.2H1969.9z" fill="#22a070"/><path d="M1976.0 935.1V957.6" stroke="#d7263d" stroke-width="2" fill="none"/><path d="M1973.3 944.4H1978.7V953.0H1973.3z" fill="#d7263d"/><path d="M1979.4 927.6V959.5M1982.8 933.9V940.8" stroke="#22a070" stroke-width="2" fill="none"/><path d="M1976.7 937.9H1982.1V953.0H1976.7zM1980.1 936.6H1985.5V938.6H1980.1z" fill="#22a070"/><path d="M1986.2 935.4V987.0" stroke="#d7263d" stroke-width="2" fill="none"/><path d="M1983.5 937.3H1988.9V981.6H1983.5z" fill="#d7263d"/><path d="M1989.6 956.9V996.8M1993.0 943.0V969.9M1996.4 931.8V953.3" stroke="#22a070" stroke-width="2" fill="none"/><path d="M1986.9 962.6H1992.3V981.6H1986.9zM1990.3 949.6H1995.7V962.6H1990.3zM1993.7 935.3H1999.1V949.6H1993.7z" fill="#22a070"/><path d="M1999.8 932.7V947.4" stroke="#d7263d" stroke-width="2" fill="none"/><path d="M1997.1 935.3H2002.5V945.2H1997.1z" fill="#d7263d"/><path d="M2003.2 925.1V949.2M2006.7 910.3V931.5" stroke="#22a070" stroke-width="2" fill="none"/><path d="M2000.5 926.2H2005.9V945.2H2000.5zM2004.0 913.2H2009.4V926.2H2004.0z" fill="#22a070"/><path d="M2010.1 865.6V922.0M2013.5 918.1V958.4M2016.9 946.7V956.9M2020.3 946.8V972.7" stroke="#d7263d" stroke-width="2" fill="none"/><path d="M2007.4 913.2H2012.8V920.5H2007.4zM2010.8 920.5H2016.2V950.4H2010.8zM2014.2 950.4H2019.6V953.0H2014.2zM2017.6 953.0H2023.0V958.2H2017.6z" fill="#d7263d"/><path d="M2023.7 938.4V964.2" stroke="#22a070" stroke-width="2" fill="none"/><path d="M2021.0 943.1H2026.4V958.2H2021.0z" fill="#22a070"/><path d="M2027.1 937.6V967.9M2030.5 957.8V1000.0" stroke="#d7263d" stroke-width="2" fill="none"/><path d="M2024.4 943.1H2029.8V966.0H2024.4zM2027.8 966.0H2033.2V982.9H2027.8z" fill="#d7263d"/><path d="M2033.9 968.0V989.6M2037.3 940.4V974.7" stroke="#22a070" stroke-width="2" fill="none"/><path d="M2031.2 973.0H2036.6V982.9H2031.2zM2034.6 944.4H2040.0V973.0H2034.6z" fill="#22a070"/><path d="M2040.8 942.1V963.3" stroke="#d7263d" stroke-width="2" fill="none"/><path d="M2038.1 944.4H2043.5V960.8H2038.1z" fill="#d7263d"/><path d="M2044.2 913.7V964.3M2047.6 906.0V916.9" stroke="#22a070" stroke-width="2" fill="none"/><path d="M2041.5 915.8H2046.9V960.8H2041.5zM2044.9 910.0H2050.3V915.8H2044.9z" fill="#22a070"/><path d="M2051.0 908.1V923.5M2054.4 903.9V913.5" stroke="#d7263d" stroke-width="2" fill="none"/><path d="M2048.3 909.1H2053.7V911.1H2048.3zM2051.7 910.1H2057.1V912.3H2051.7z" fill="#d7263d"/><path d="M2057.8 872.1V913.8M2061.2 870.5V886.9M2064.6 850.2V881.5" stroke="#22a070" stroke-width="2" fill="none"/><path d="M2055.1 881.1H2060.5V912.3H2055.1zM2058.5 873.6H2063.9V881.1H2058.5zM2061.9 856.0H2066.6V873.6H2061.9z" fill="#22a070"/><rect x="44.1" y="1447" width="2022.9" height="2" fill="#ccd6eb"/><rect x="101.7" y="1448.0" width="2" height="17" fill="#ccd6eb"/><text x="102.7" y="1481" text-anchor="middle" class="ax">May '23</text><rect x="254.7" y="1448.0" width="2" height="17" fill="#ccd6eb"/><text x="255.7" y="1481" text-anchor="middle" class="ax">Jul '23</text><rect x="405.9" y="1448.0" width="2" height="17" fill="#ccd6eb"/><text x="406.9" y="1481" text-anchor="middle" class="ax">Sep '23</text><rect x="553.2" y="1448.0" width="2" height="17" fill="#ccd6eb"/><text x="554.2" y="1481" text-anchor="middle" class="ax">Nov '23</text><rect x="697.2" y="1448.0" width="2" height="17" fill="#ccd6eb"/><text x="698.2" y="1481" text-anchor="middle" class="ax">Jan '24</text><rect x="844.9" y="1448.0" width="2" height="17" fill="#ccd6eb"/><text x="845.9" y="1481" text-anchor="middle" class="ax">Mar '24</text><rect x="992.5" y="1448.0" width="2" height="17" fill="#ccd6eb"/><text x="993.5" y="1481" text-anchor="middle" class="ax">May '24</text><rect x="1139.9" y="1448.0" width="2" height="17" fill="#ccd6eb"/><text x="1140.9" y="1481" text-anchor="middle" class="ax">Jul '24</text><rect x="1293.5" y="1448.0" width="2" height="17" fill="#ccd6eb"/><text x="1294.5" y="1481" text-anchor="middle" class="ax">Sep '24</text><rect x="1443.5" y="1448.0" width="2" height="17" fill="#ccd6eb"/><text x="1444.5" y="1481" text-anchor="middle" class="ax">Nov '24</text><rect x="1588.0" y="1448.0" width="2" height="17" fill="#ccd6eb"/><text x="1589.0" y="1481" text-anchor="middle" class="ax">Jan '25</text><rect x="1732.3" y="1448.0" width="2" height="17" fill="#ccd6eb"/><text x="1733.3" y="1481" text-anchor="middle" class="ax">Mar '25</text><rect x="1879.7" y="1448.0" width="2" height="17" fill="#ccd6eb"/><text x="1880.7" y="1481" text-anchor="middle" class="ax">May '25</text><rect x="2027.6" y="1448.0" width="2" height="17" fill="#ccd6eb"/><text x="2028.6" y="1481" text-anchor="middle" class="ax">Jul '25</text><text x="2095.3" y="558.9" class="ay">160</text><text x="2095.3" y="685.2" class="ay">155</text><text x="2095.3" y="811.5" class="ay">150</text><text x="2095.3" y="937.8" class="ay">145</text><text x="2095.3" y="1064.1" class="ay">140</text><text x="2095.3" y="1190.4" class="ay">135</text><text x="2095.3" y="1316.7" class="ay">130</text><text x="2095.3" y="1443.0" class="ay">125</text><circle cx="145.3" cy="1529.5" r="10.8" fill="#7f7ffa"/><text x="168.8" y="1538.8" class="lg">過去<tspan class="d">52</tspan>週的最高價</text><circle cx="535.5" cy="1529.5" r="10.8" fill="#7f7ffa"/><text x="559.0" y="1538.8" class="lg">RSI達到<tspan class="d">80</tspan>的水平</text><circle cx="925.7" cy="1529.5" r="10.8" fill="#7f7ffa"/><text x="949.2" y="1538.8" class="lg"><tspan class="d">52</tspan>週內最高價和最低價的<tspan class="d">61.8</tspan>%</text><circle cx="1316.0" cy="1529.5" r="10.8" fill="#7f7ffa"/><text x="1339.5" y="1538.8" class="lg">移動平均線(<tspan class="d">200</tspan>)</text><circle cx="1706.3" cy="1529.5" r="10.8" fill="#7f7ffa"/><text x="1729.8" y="1538.8" class="lg">RSI達到<tspan class="d">70</tspan>的水平</text><circle cx="145.3" cy="1556.57" r="10.8" fill="#7f7ffa"/><text x="168.8" y="1565.9" class="lg"><tspan class="d">52</tspan>週內最高價和最低價的<tspan class="d">50</tspan>%</text><circle cx="535.5" cy="1556.57" r="10.8" fill="#7f7ffa"/><text x="559.0" y="1565.9" class="lg">標準差(<tspan class="d">3</tspan>σ)</text><circle cx="925.7" cy="1556.57" r="10.8" fill="#7f7ffa"/><text x="949.2" y="1565.9" class="lg">樞紐點(R<tspan class="d">3</tspan>)</text><circle cx="1316.0" cy="1556.57" r="10.8" fill="#7f7ffa"/><text x="1339.5" y="1565.9" class="lg">過去<tspan class="d">13</tspan>週的最高價</text><circle cx="1706.3" cy="1556.57" r="10.8" fill="#7f7ffa"/><text x="1729.8" y="1565.9" class="lg">過去<tspan class="d">30</tspan>天的最高價</text><circle cx="145.3" cy="1583.64" r="10.8" fill="#fc897d"/><text x="168.8" y="1592.9" class="lg">樞紐點(R<tspan class="d">2</tspan>)</text><circle cx="535.5" cy="1583.64" r="10.8" fill="#fc897d"/><text x="559.0" y="1592.9" class="lg">標準差(<tspan class="d">2</tspan>σ)</text><circle cx="925.7" cy="1583.64" r="10.8" fill="#fc897d"/><text x="949.2" y="1592.9" class="lg">樞紐點(R<tspan class="d">1</tspan>)</text><circle cx="1316.0" cy="1583.64" r="10.8" fill="#fc897d"/><text x="1339.5" y="1592.9" class="lg">前一天的最高價</text><circle cx="1706.3" cy="1583.64" r="10.8" fill="#fc897d"/><text x="1729.8" y="1592.9" class="lg">前一天的收盤價</text><circle cx="145.3" cy="1610.71" r="10.8" fill="#fc897d"/><text x="168.8" y="1620.0" class="lg">樞紐點(PP)</text><circle cx="535.5" cy="1610.71" r="10.8" fill="#fc897d"/><text x="559.0" y="1620.0" class="lg"><tspan class="d">52</tspan>週內最高價和最低價的<tspan class="d">38.2</tspan>%</text><circle cx="925.7" cy="1610.71" r="10.8" fill="#fc897d"/><text x="949.2" y="1620.0" class="lg">樞紐點(S<tspan class="d">1</tspan>)</text><circle cx="1316.0" cy="1610.71" r="10.8" fill="#fc897d"/><text x="1339.5" y="1620.0" class="lg">標準差(<tspan class="d">1</tspan>σ)</text><circle cx="1706.3" cy="1610.71" r="10.8" fill="#fc897d"/><text x="1729.8" y="1620.0" class="lg">前一天的最低價</text><circle cx="145.3" cy="1637.78" r="10.8" fill="#fc897d"/><text x="168.8" y="1647.1" class="lg">樞紐點(S<tspan class="d">2</tspan>)</text><circle cx="535.5" cy="1637.78" r="10.8" fill="#fc897d"/><text x="559.0" y="1647.1" class="lg"><tspan class="d">1</tspan>個月內最高價和最低價的<tspan class="d">38.2</tspan>%</text><circle cx="925.7" cy="1637.78" r="10.8" fill="#fc897d"/><text x="949.2" y="1647.1" class="lg">樞紐點(S<tspan class="d">3</tspan>)</text><circle cx="1316.0" cy="1637.78" r="10.8" fill="#fc897d"/><text x="1339.5" y="1647.1" class="lg"><tspan class="d">1</tspan>個月內最高價和最低價的<tspan class="d">50</tspan>%</text><circle cx="1706.3" cy="1637.78" r="10.8" fill="#fc897d"/><text x="1729.8" y="1647.1" class="lg"><tspan class="d">13</tspan>週內最高價和最低價的<tspan class="d">38.2</tspan>%</text><circle cx="145.3" cy="1664.85" r="10.8" fill="#fc897d"/><text x="168.8" y="1674.1" class="lg">移動平均線(<tspan class="d">20</tspan>)</text><circle cx="535.5" cy="1664.85" r="10.8" fill="#fc897d"/><text x="559.0" y="1674.1" class="lg">移動平均線(<tspan class="d">90</tspan>)</text><circle cx="925.7" cy="1664.85" r="10.8" fill="#fc897d"/><text x="949.2" y="1674.1" class="lg"><tspan class="d">1</tspan>個月內最高價和最低價的<tspan class="d">61.8</tspan>%</text><circle cx="1316.0" cy="1664.85" r="10.8" fill="#fc897d"/><text x="1339.5" y="1674.1" class="lg">移動平均線(<tspan class="d">60</tspan>)</text><circle cx="1706.3" cy="1664.85" r="10.8" fill="#fc897d"/><text x="1729.8" y="1674.1" class="lg"><tspan class="d">13</tspan>週內最高價和最低價的<tspan class="d">50</tspan>%</text><circle cx="145.3" cy="1691.92" r="10.8" fill="#fc897d"/><text x="168.8" y="1701.2" class="lg">標準差(−<tspan class="d">1</tspan>σ)</text><circle cx="535.5" cy="1691.92" r="10.8" fill="#fc897d"/><text x="559.0" y="1701.2" class="lg"><tspan class="d">13</tspan>週內最高價和最低價的<tspan class="d">61.8</tspan>%</text><circle cx="925.7" cy="1691.92" r="10.8" fill="#fc897d"/><text x="949.2" y="1701.2" class="lg">標準差(−<tspan class="d">2</tspan>σ)</text><circle cx="1316.0" cy="1691.92" r="10.8" fill="#fc897d"/><text x="1339.5" y="1701.2" class="lg">過去<tspan class="d">30</tspan>天的最低價</text><circle cx="1706.3" cy="1691.92" r="10.8" fill="#fc897d"/><text x="1729.8" y="1701.2" class="lg">標準差(−<tspan class="d">3</tspan>σ)</text><circle cx="145.3" cy="1718.99" r="10.8" fill="#fc897d"/><text x="168.8" y="1728.3" class="lg">過去<tspan class="d">13</tspan>週的最低價</text><circle cx="535.5" cy="1718.99" r="10.8" fill="#fc897d"/><text x="559.0" y="1728.3" class="lg">過去<tspan class="d">52</tspan>週的最低價</text><circle cx="925.7" cy="1718.99" r="10.8" fill="#fc897d"/><text x="949.2" y="1728.3" class="lg">RSI達到<tspan class="d">30</tspan>的水平</text><circle cx="1316.0" cy="1718.99" r="10.8" fill="#fc897d"/><text x="1339.5" y="1728.3" class="lg">RSI達到<tspan class="d">20</tspan>的水平</text></svg>
</body></html>
